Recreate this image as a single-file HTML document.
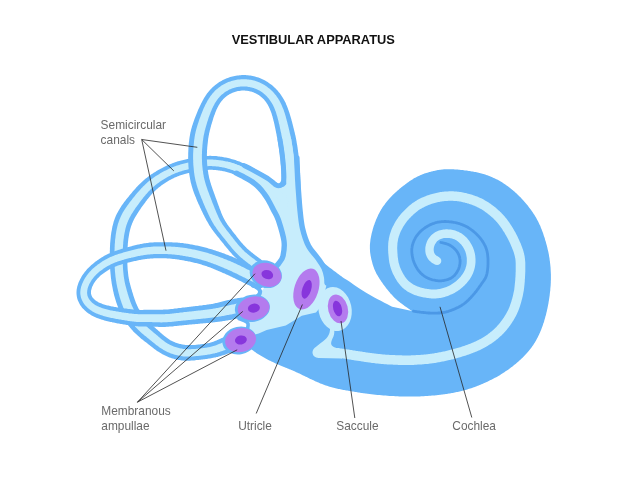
<!DOCTYPE html>
<html><head><meta charset="utf-8"><title>Vestibular apparatus</title>
<style>
html,body{margin:0;padding:0;background:#fff;}
svg{display:block}
.lb{font-family:"Liberation Sans",sans-serif;font-size:11.9px;fill:#6a6a6a;}
.tt{font-family:"Liberation Sans",sans-serif;font-size:12.85px;font-weight:bold;fill:#111;}
</style></head><body>
<svg width="626" height="479" viewBox="0 0 626 479">
<rect width="626" height="479" fill="#fff"/>
<path d="M412.0 311.0 L411.2 310.4 L410.3 309.9 L409.5 309.3 L408.7 308.8 L407.9 308.2 L407.0 307.6 L406.2 307.1 L405.4 306.5 L404.6 305.9 L403.8 305.3 L403.0 304.7 L402.2 304.1 L401.4 303.5 L400.6 302.9 L399.8 302.3 L399.0 301.7 L398.2 301.1 L397.5 300.4 L396.7 299.7 L396.0 299.1 L395.3 298.4 L394.5 297.7 L393.8 297.0 L393.1 296.3 L392.5 295.6 L391.8 294.8 L391.1 294.1 L390.4 293.4 L389.8 292.6 L389.1 291.8 L388.5 291.1 L387.9 290.3 L387.3 289.5 L386.6 288.7 L386.0 287.9 L385.4 287.1 L384.8 286.3 L384.2 285.5 L383.6 284.7 L383.0 283.9 L382.5 283.1 L381.9 282.3 L381.3 281.5 L380.7 280.6 L380.2 279.8 L379.6 279.0 L379.1 278.1 L378.6 277.3 L378.1 276.4 L377.6 275.6 L377.1 274.7 L376.6 273.9 L376.1 273.0 L375.7 272.1 L375.3 271.2 L374.9 270.3 L374.5 269.4 L374.1 268.4 L373.8 267.5 L373.4 266.6 L373.1 265.6 L372.8 264.7 L372.5 263.7 L372.3 262.8 L372.0 261.8 L371.8 260.8 L371.5 259.9 L371.3 258.9 L371.1 257.9 L370.9 257.0 L370.7 256.0 L370.5 255.0 L370.4 254.0 L370.2 253.0 L370.1 252.0 L370.0 251.1 L370.0 250.1 L369.9 249.1 L369.9 248.1 L369.9 247.1 L369.9 246.1 L369.9 245.1 L370.0 244.1 L370.1 243.1 L370.2 242.1 L370.3 241.2 L370.4 240.2 L370.5 239.2 L370.7 238.2 L370.9 237.2 L371.1 236.2 L371.3 235.3 L371.5 234.3 L371.7 233.3 L372.0 232.3 L372.2 231.4 L372.5 230.4 L372.7 229.5 L373.0 228.5 L373.3 227.5 L373.6 226.6 L373.9 225.6 L374.3 224.7 L374.6 223.8 L374.9 222.8 L375.3 221.9 L375.6 220.9 L376.0 220.0 L376.4 219.1 L376.8 218.2 L377.2 217.3 L377.6 216.4 L378.0 215.4 L378.4 214.6 L378.9 213.7 L379.4 212.8 L379.8 211.9 L380.3 211.0 L380.8 210.2 L381.3 209.3 L381.9 208.5 L382.4 207.6 L382.9 206.8 L383.5 206.0 L384.1 205.2 L384.7 204.4 L385.3 203.6 L385.9 202.8 L386.5 202.0 L387.1 201.2 L387.7 200.4 L388.4 199.7 L389.0 198.9 L389.7 198.2 L390.4 197.4 L391.1 196.7 L391.8 196.0 L392.5 195.3 L393.2 194.6 L393.9 193.9 L394.6 193.2 L395.4 192.5 L396.1 191.9 L396.8 191.2 L397.6 190.5 L398.4 189.9 L399.1 189.2 L399.9 188.6 L400.7 188.0 L401.4 187.3 L402.2 186.7 L403.0 186.1 L403.8 185.5 L404.6 184.9 L405.4 184.3 L406.2 183.7 L407.0 183.1 L407.8 182.5 L408.6 181.9 L409.4 181.3 L410.2 180.8 L411.1 180.2 L411.9 179.7 L412.8 179.2 L413.6 178.6 L414.5 178.1 L415.3 177.7 L416.2 177.2 L417.1 176.7 L418.0 176.3 L418.9 175.9 L419.8 175.4 L420.7 175.1 L421.6 174.7 L422.6 174.3 L423.5 174.0 L424.4 173.6 L425.4 173.3 L426.3 173.0 L427.3 172.7 L428.2 172.4 L429.2 172.1 L430.2 171.9 L431.1 171.6 L432.1 171.4 L433.1 171.1 L434.0 170.9 L435.0 170.7 L436.0 170.5 L437.0 170.3 L437.9 170.1 L438.9 169.9 L439.9 169.8 L440.9 169.7 L441.9 169.5 L442.9 169.4 L443.9 169.3 L444.9 169.3 L445.9 169.2 L446.8 169.2 L447.8 169.2 L448.8 169.2 L449.8 169.2 L450.8 169.2 L451.8 169.2 L452.8 169.3 L453.8 169.3 L454.8 169.4 L455.8 169.4 L456.8 169.5 L457.8 169.6 L458.8 169.7 L459.8 169.8 L460.8 169.9 L461.8 170.0 L462.8 170.1 L463.8 170.2 L464.8 170.4 L465.8 170.5 L466.8 170.6 L467.7 170.8 L468.7 170.9 L469.7 171.1 L470.7 171.2 L471.7 171.4 L472.7 171.6 L473.7 171.7 L474.6 171.9 L475.6 172.1 L476.6 172.3 L477.6 172.5 L478.6 172.8 L479.5 173.0 L480.5 173.2 L481.5 173.5 L482.4 173.8 L483.4 174.0 L484.3 174.3 L485.3 174.6 L486.2 174.9 L487.2 175.3 L488.1 175.6 L489.0 176.0 L490.0 176.3 L490.9 176.7 L491.8 177.1 L492.7 177.5 L493.6 177.9 L494.5 178.3 L495.4 178.7 L496.3 179.2 L497.2 179.6 L498.1 180.1 L499.0 180.6 L499.8 181.1 L500.7 181.6 L501.6 182.1 L502.4 182.6 L503.3 183.2 L504.1 183.7 L504.9 184.3 L505.7 184.8 L506.6 185.4 L507.4 186.0 L508.2 186.6 L509.0 187.2 L509.8 187.8 L510.6 188.4 L511.3 189.0 L512.1 189.7 L512.9 190.3 L513.6 191.0 L514.4 191.6 L515.1 192.3 L515.9 192.9 L516.6 193.6 L517.3 194.3 L518.0 195.0 L518.8 195.7 L519.5 196.4 L520.2 197.1 L520.9 197.8 L521.5 198.6 L522.2 199.3 L522.9 200.0 L523.6 200.8 L524.2 201.5 L524.9 202.3 L525.5 203.0 L526.2 203.8 L526.8 204.6 L527.5 205.3 L528.1 206.1 L528.7 206.9 L529.3 207.7 L529.9 208.5 L530.5 209.3 L531.1 210.1 L531.7 210.9 L532.3 211.7 L532.8 212.5 L533.4 213.4 L533.9 214.2 L534.5 215.1 L535.0 215.9 L535.5 216.8 L536.0 217.6 L536.5 218.5 L537.0 219.4 L537.4 220.2 L537.9 221.1 L538.4 222.0 L538.8 222.9 L539.2 223.8 L539.6 224.7 L540.1 225.6 L540.5 226.5 L540.8 227.5 L541.2 228.4 L541.6 229.3 L541.9 230.3 L542.3 231.2 L542.6 232.1 L543.0 233.1 L543.3 234.0 L543.6 235.0 L543.9 235.9 L544.3 236.9 L544.6 237.8 L544.9 238.8 L545.1 239.7 L545.4 240.7 L545.7 241.6 L546.0 242.6 L546.2 243.6 L546.5 244.5 L546.8 245.5 L547.0 246.5 L547.3 247.4 L547.5 248.4 L547.7 249.4 L548.0 250.4 L548.2 251.3 L548.4 252.3 L548.6 253.3 L548.8 254.3 L549.0 255.2 L549.1 256.2 L549.3 257.2 L549.5 258.2 L549.6 259.2 L549.7 260.2 L549.9 261.2 L550.0 262.2 L550.1 263.2 L550.2 264.1 L550.3 265.1 L550.4 266.1 L550.5 267.1 L550.6 268.1 L550.6 269.1 L550.7 270.1 L550.7 271.1 L550.8 272.1 L550.8 273.1 L550.9 274.1 L550.9 275.1 L550.9 276.1 L550.9 277.1 L550.9 278.1 L550.9 279.1 L550.9 280.1 L550.8 281.1 L550.8 282.1 L550.8 283.1 L550.7 284.1 L550.7 285.1 L550.6 286.1 L550.5 287.1 L550.4 288.1 L550.3 289.1 L550.3 290.1 L550.2 291.1 L550.0 292.1 L549.9 293.1 L549.8 294.1 L549.7 295.1 L549.6 296.1 L549.4 297.0 L549.3 298.0 L549.1 299.0 L549.0 300.0 L548.8 301.0 L548.6 302.0 L548.5 303.0 L548.3 304.0 L548.1 304.9 L547.9 305.9 L547.7 306.9 L547.5 307.9 L547.3 308.9 L547.1 309.8 L546.9 310.8 L546.7 311.8 L546.4 312.8 L546.2 313.7 L546.0 314.7 L545.7 315.7 L545.4 316.6 L545.2 317.6 L544.9 318.6 L544.6 319.5 L544.3 320.5 L544.1 321.4 L543.8 322.4 L543.4 323.3 L543.1 324.3 L542.8 325.2 L542.5 326.2 L542.1 327.1 L541.8 328.0 L541.4 329.0 L541.1 329.9 L540.7 330.8 L540.3 331.8 L539.9 332.7 L539.5 333.6 L539.1 334.5 L538.6 335.4 L538.2 336.3 L537.8 337.2 L537.3 338.1 L536.8 339.0 L536.4 339.8 L535.9 340.7 L535.4 341.6 L534.9 342.4 L534.3 343.3 L533.8 344.1 L533.3 344.9 L532.7 345.8 L532.1 346.6 L531.5 347.4 L530.9 348.2 L530.3 349.0 L529.7 349.8 L529.1 350.5 L528.5 351.3 L527.8 352.1 L527.2 352.8 L526.5 353.6 L525.8 354.3 L525.1 355.0 L524.4 355.7 L523.7 356.5 L523.0 357.2 L522.3 357.9 L521.6 358.6 L520.9 359.2 L520.1 359.9 L519.4 360.6 L518.7 361.3 L517.9 361.9 L517.1 362.6 L516.4 363.2 L515.6 363.9 L514.8 364.5 L514.1 365.1 L513.3 365.8 L512.5 366.4 L511.7 367.0 L510.9 367.6 L510.1 368.2 L509.3 368.8 L508.5 369.4 L507.7 369.9 L506.9 370.5 L506.0 371.1 L505.2 371.6 L504.4 372.2 L503.5 372.7 L502.7 373.3 L501.9 373.8 L501.0 374.3 L500.2 374.9 L499.3 375.4 L498.4 375.9 L497.6 376.4 L496.7 376.9 L495.8 377.4 L494.9 377.8 L494.1 378.3 L493.2 378.8 L492.3 379.2 L491.4 379.7 L490.5 380.1 L489.6 380.6 L488.7 381.0 L487.8 381.5 L486.9 381.9 L486.0 382.3 L485.1 382.7 L484.2 383.1 L483.3 383.5 L482.3 383.9 L481.4 384.3 L480.5 384.7 L479.6 385.1 L478.7 385.5 L477.7 385.8 L476.8 386.2 L475.9 386.5 L474.9 386.9 L474.0 387.2 L473.0 387.6 L472.1 387.9 L471.1 388.2 L470.2 388.5 L469.2 388.8 L468.3 389.1 L467.3 389.4 L466.4 389.7 L465.4 390.0 L464.4 390.2 L463.5 390.5 L462.5 390.7 L461.5 391.0 L460.6 391.2 L459.6 391.4 L458.6 391.7 L457.7 391.9 L456.7 392.1 L455.7 392.3 L454.7 392.5 L453.7 392.7 L452.8 392.9 L451.8 393.1 L450.8 393.2 L449.8 393.4 L448.8 393.6 L447.8 393.7 L446.8 393.9 L445.8 394.1 L444.9 394.2 L443.9 394.3 L442.9 394.5 L441.9 394.6 L440.9 394.7 L439.9 394.8 L438.9 395.0 L437.9 395.1 L436.9 395.2 L435.9 395.3 L434.9 395.4 L433.9 395.4 L432.9 395.5 L431.9 395.6 L430.9 395.7 L429.9 395.8 L428.9 395.8 L427.9 395.9 L426.9 396.0 L425.9 396.0 L425.0 396.1 L424.0 396.2 L423.0 396.2 L422.0 396.3 L421.0 396.3 L420.0 396.4 L419.0 396.4 L418.0 396.5 L417.0 396.5 L416.0 396.5 L415.0 396.6 L414.0 396.6 L413.0 396.6 L412.0 396.6 L411.0 396.6 L410.0 396.6 L409.0 396.6 L408.0 396.6 L407.0 396.6 L406.0 396.6 L405.0 396.6 L404.0 396.6 L403.0 396.5 L402.0 396.5 L401.0 396.5 L400.0 396.4 L399.0 396.4 L398.0 396.3 L397.0 396.3 L396.0 396.3 L395.0 396.2 L394.0 396.1 L393.0 396.1 L392.0 396.0 L391.0 396.0 L390.0 395.9 L389.0 395.9 L388.0 395.8 L387.0 395.7 L386.0 395.6 L385.0 395.6 L384.0 395.5 L383.0 395.4 L382.0 395.3 L381.0 395.2 L380.0 395.1 L379.0 395.1 L378.0 395.0 L377.0 394.9 L376.0 394.8 L375.0 394.7 L374.0 394.5 L373.0 394.4 L372.0 394.3 L371.0 394.2 L370.0 394.1 L369.0 394.0 L368.1 393.8 L367.1 393.7 L366.1 393.6 L365.1 393.5 L364.1 393.3 L363.1 393.2 L362.1 393.0 L361.1 392.9 L360.1 392.7 L359.1 392.6 L358.1 392.4 L357.2 392.3 L356.2 392.1 L355.2 392.0 L354.2 391.8 L353.2 391.6 L352.2 391.5 L351.2 391.3 L350.3 391.1 L349.3 391.0 L348.3 390.8 L347.3 390.6 L346.3 390.4 L345.3 390.3 L344.3 390.1 L343.4 389.9 L342.4 389.7 L341.4 389.5 L340.4 389.3 L339.4 389.1 L338.5 388.9 L337.5 388.7 L336.5 388.5 L335.5 388.2 L334.6 388.0 L333.6 387.8 L332.6 387.5 L331.7 387.2 L330.7 387.0 L329.7 386.7 L328.8 386.4 L327.8 386.1 L326.9 385.8 L325.9 385.5 L325.0 385.2 L324.0 384.8 L323.1 384.5 L322.2 384.1 L321.2 383.8 L320.3 383.4 L319.4 383.0 L318.5 382.6 L317.6 382.2 L316.6 381.8 L315.7 381.4 L314.8 381.0 L313.9 380.6 L313.0 380.1 L312.1 379.7 L311.2 379.3 L310.3 378.9 L309.4 378.4 L308.5 378.0 L307.6 377.6 L306.7 377.1 L305.8 376.7 L304.9 376.2 L304.0 375.8 L303.1 375.4 L302.2 374.9 L301.3 374.5 L300.4 374.1 L299.5 373.6 L298.6 373.2 L297.7 372.8 L296.8 372.4 L295.9 372.0 L294.9 371.6 L294.0 371.1 L293.1 370.7 L292.2 370.3 L291.3 370.0 L290.4 369.6 L289.4 369.2 L288.5 368.8 L287.6 368.4 L286.7 368.1 L285.7 367.7 L284.8 367.3 L283.9 366.9 L282.9 366.6 L282.0 366.2 L281.1 365.8 L280.2 365.4 L279.3 365.0 L278.3 364.6 L277.4 364.2 L276.5 363.8 L275.6 363.4 L274.7 363.0 L273.8 362.6 L272.9 362.1 L272.0 361.7 L271.1 361.3 L270.2 360.8 L269.3 360.4 L268.4 359.9 L267.5 359.5 L266.6 359.0 L265.7 358.6 L264.8 358.1 L264.0 357.6 L263.1 357.1 L262.2 356.6 L261.4 356.1 L260.5 355.6 L259.7 355.1 L258.8 354.5 L258.0 354.0 L257.1 353.5 L256.3 352.9 L255.5 352.3 L254.7 351.8 L253.9 351.2 L253.1 350.6 L252.3 350.0 L251.5 349.4 L250.7 348.8 L249.9 348.1 L249.1 347.5 L248.3 346.9 L247.5 346.3 L246.8 345.6 L246.0 345.0 L258 320 L280 290 L296 250 L302.0 224.0 C302.4 225.0 303.2 226.3 304.6 230.0 C306.0 233.7 307.4 240.9 310.2 246.0 C313.0 251.1 316.8 255.9 321.4 260.5 C325.9 265.1 333.2 270.1 337.5 273.4 C341.8 276.6 342.1 276.7 347.0 280.0 C351.9 283.3 359.5 288.8 367.0 293.3 C374.5 297.8 388.0 304.6 392.2 306.8 L412 311Z" fill="#68b5f8"/>
<path d="M439.1 257.2 L438.3 256.8 L437.6 256.3 L436.9 255.9 L436.3 255.5 L435.8 255.1 L435.4 254.7 L435.0 254.2 L434.7 253.8 L434.5 253.3 L434.2 252.8 L434.0 252.2 L433.9 251.6 L433.8 250.9 L433.7 250.3 L433.7 249.6 L433.7 248.9 L433.8 248.2 L433.9 247.4 L434.1 246.7 L434.3 246.0 L434.6 245.3 L434.9 244.6 L435.2 244.0 L435.6 243.4 L436.0 242.7 L436.4 242.2 L436.9 241.6 L437.3 241.1 L437.9 240.7 L438.4 240.3 L439.0 239.9 L439.6 239.5 L440.2 239.2 L440.9 238.9 L441.6 238.7 L442.3 238.5 L443.1 238.3 L443.9 238.1 L444.7 238.0 L445.5 237.9 L446.3 237.9 L447.1 237.9 L447.9 237.9 L448.7 238.0 L449.5 238.1 L450.3 238.2 L451.1 238.3 L451.9 238.5 L452.7 238.8 L453.4 239.0 L454.2 239.3 L454.9 239.6 L455.6 240.0 L456.3 240.3 L456.9 240.8 L457.6 241.2 L458.2 241.7 L458.8 242.2 L459.4 242.8 L460.0 243.4 L460.6 244.0 L461.2 244.6 L461.7 245.3 L462.2 245.9 L462.7 246.6 L463.1 247.3 L463.6 248.0 L464.0 248.8 L464.4 249.5 L464.7 250.3 L465.1 251.0 L465.4 251.8 L465.6 252.6 L465.9 253.4 L466.1 254.2 L466.3 255.1 L466.4 255.9 L466.6 256.8 L466.7 257.6 L466.8 258.5 L466.8 259.3 L466.8 260.2 L466.8 261.0 L466.8 261.9 L466.7 262.7 L466.7 263.5 L466.5 264.4 L466.4 265.2 L466.2 266.0 L466.0 266.8 L465.7 267.6 L465.5 268.4 L465.2 269.2 L464.9 270.0 L464.5 270.7 L464.1 271.5 L463.7 272.2 L463.3 273.0 L462.8 273.7 L462.3 274.4 L461.8 275.1 L461.3 275.8 L460.8 276.5 L460.2 277.2 L459.6 277.8 L459.0 278.5 L458.4 279.1 L457.7 279.7 L457.0 280.3 L456.4 280.9 L455.7 281.5 L455.0 282.0 L454.3 282.6 L453.6 283.1 L452.8 283.6 L452.1 284.1 L451.3 284.5 L450.6 285.0 L449.8 285.4 L449.0 285.8 L448.2 286.2 L447.4 286.5 L446.5 286.9 L445.7 287.2 L444.9 287.5 L444.0 287.8 L443.2 288.1 L442.3 288.3 L441.4 288.6 L440.6 288.8 L439.7 289.0 L438.9 289.1 L438.0 289.2 L437.2 289.3 L436.3 289.4 L435.4 289.5 L434.6 289.5 L433.7 289.5 L432.8 289.5 L431.9 289.5 L431.0 289.4 L430.1 289.3 L429.2 289.2 L428.3 289.1 L427.4 289.0 L426.5 288.8 L425.6 288.7 L424.6 288.5 L423.7 288.3 L422.9 288.1 L422.0 287.9 L421.1 287.6 L420.2 287.4 L419.4 287.1 L418.5 286.8 L417.7 286.5 L416.9 286.2 L416.1 285.8 L415.3 285.5 L414.5 285.1 L413.7 284.7 L413.0 284.2 L412.3 283.8 L411.6 283.3 L410.9 282.8 L410.2 282.3 L409.5 281.8 L408.9 281.2 L408.3 280.7 L407.7 280.1 L407.1 279.5 L406.6 278.8 L406.1 278.2 L405.6 277.5 L405.0 276.8 L404.6 276.1 L404.1 275.3 L403.6 274.5 L403.2 273.7 L402.7 272.9 L402.3 272.1 L401.9 271.3 L401.5 270.5 L401.1 269.7 L400.7 268.8 L400.4 268.0 L400.0 267.2 L399.7 266.3 L399.5 265.5 L399.2 264.6 L399.0 263.8 L398.7 262.9 L398.5 262.1 L398.4 261.2 L398.2 260.3 L398.1 259.4 L398.0 258.5 L397.8 257.6 L397.7 256.6 L397.6 255.7 L397.6 254.7 L397.5 253.8 L397.4 252.8 L397.4 251.9 L397.3 250.9 L397.3 250.0 L397.2 249.0 L397.2 248.1 L397.2 247.2 L397.3 246.3 L397.3 245.4 L397.4 244.5 L397.4 243.6 L397.5 242.7 L397.7 241.8 L397.8 240.9 L398.0 240.1 L398.1 239.2 L398.3 238.3 L398.6 237.5 L398.8 236.6 L399.1 235.8 L399.4 234.9 L399.7 234.1 L400.0 233.3 L400.3 232.4 L400.7 231.6 L401.1 230.8 L401.5 230.0 L401.9 229.2 L402.3 228.4 L402.8 227.6 L403.2 226.8 L403.7 226.0 L404.2 225.2 L404.7 224.5 L405.2 223.7 L405.7 223.0 L406.3 222.2 L406.8 221.5 L407.4 220.8 L408.0 220.1 L408.6 219.4 L409.2 218.7 L409.8 218.1 L410.5 217.4 L411.1 216.7 L411.8 216.1 L412.5 215.4 L413.2 214.8 L413.9 214.1 L414.6 213.5 L415.3 212.9 L416.0 212.3 L416.7 211.8 L417.4 211.2 L418.1 210.6 L418.9 210.1 L419.6 209.6 L420.4 209.1 L421.1 208.7 L421.9 208.2 L422.7 207.8 L423.5 207.4 L424.3 206.9 L425.1 206.6 L425.9 206.2 L426.8 205.8 L427.6 205.5 L428.5 205.1 L429.3 204.8 L430.2 204.5 L431.1 204.1 L432.0 203.8 L432.9 203.6 L433.8 203.3 L434.7 203.0 L435.6 202.8 L436.5 202.5 L437.4 202.3 L438.3 202.1 L439.2 201.9 L440.1 201.8 L441.0 201.6 L441.9 201.5 L442.8 201.3 L443.7 201.2 L444.7 201.1 L445.6 201.0 L446.5 200.9 L447.4 200.9 L448.4 200.8 L449.3 200.8 L450.2 200.8 L451.1 200.8 L452.0 200.8 L452.9 200.8 L453.9 200.9 L454.8 200.9 L455.7 201.0 L456.6 201.1 L457.5 201.2 L458.4 201.3 L459.3 201.5 L460.2 201.6 L461.1 201.8 L462.1 202.0 L463.0 202.2 L463.9 202.4 L464.8 202.6 L465.7 202.9 L466.6 203.1 L467.5 203.4 L468.4 203.6 L469.3 203.9 L470.2 204.2 L471.1 204.5 L472.0 204.8 L472.8 205.2 L473.7 205.5 L474.5 205.8 L475.4 206.2 L476.2 206.6 L477.0 207.0 L477.9 207.4 L478.7 207.8 L479.5 208.2 L480.3 208.7 L481.1 209.1 L481.9 209.6 L482.6 210.1 L483.4 210.6 L484.2 211.1 L485.0 211.7 L485.7 212.2 L486.5 212.8 L487.2 213.3 L488.0 213.9 L488.7 214.5 L489.4 215.1 L490.2 215.7 L490.9 216.3 L491.6 216.9 L492.3 217.5 L493.0 218.1 L493.6 218.8 L494.3 219.4 L494.9 220.1 L495.6 220.8 L496.2 221.4 L496.8 222.1 L497.4 222.8 L498.0 223.5 L498.6 224.2 L499.2 225.0 L499.7 225.7 L500.3 226.4 L500.8 227.2 L501.4 228.0 L501.9 228.8 L502.4 229.6 L502.9 230.4 L503.4 231.2 L504.0 232.0 L504.5 232.8 L504.9 233.6 L505.4 234.4 L505.9 235.3 L506.4 236.1 L506.8 236.9 L507.3 237.8 L507.7 238.6 L508.2 239.5 L508.6 240.3 L509.0 241.2 L509.5 242.0 L509.9 242.9 L510.3 243.8 L510.6 244.6 L511.0 245.5 L511.4 246.4 L511.8 247.3 L512.1 248.2 L512.5 249.1 L512.8 249.9 L513.2 250.8 L513.5 251.7 L513.8 252.6 L514.0 253.4 L514.3 254.3 L514.5 255.2 L514.8 256.0 L514.9 256.9 L515.1 257.7 L515.3 258.6 L515.4 259.4 L515.5 260.3 L515.6 261.2 L515.6 262.1 L515.7 263.0 L515.7 263.9 L515.7 264.9 L515.7 265.8 L515.7 266.8 L515.7 267.7 L515.7 268.7 L515.7 269.7 L515.7 270.7 L515.7 271.7 L515.6 272.6 L515.6 273.6 L515.6 274.6 L515.5 275.5 L515.5 276.5 L515.4 277.5 L515.3 278.4 L515.3 279.4 L515.2 280.4 L515.1 281.4 L515.0 282.3 L514.9 283.3 L514.8 284.3 L514.7 285.3 L514.6 286.2 L514.5 287.2 L514.4 288.1 L514.3 289.0 L514.2 289.9 L514.0 290.8 L513.8 291.7 L513.6 292.6 L513.4 293.6 L513.2 294.5 L513.0 295.4 L512.8 296.3 L512.5 297.3 L512.3 298.2 L512.0 299.2 L511.7 300.1 L511.5 301.0 L511.2 301.9 L510.9 302.8 L510.6 303.7 L510.3 304.6 L510.0 305.5 L509.7 306.3 L509.4 307.2 L509.0 308.0 L508.7 308.8 L508.3 309.7 L507.9 310.5 L507.5 311.3 L507.0 312.1 L506.6 312.9 L506.1 313.7 L505.7 314.5 L505.2 315.3 L504.7 316.1 L504.2 316.9 L503.7 317.7 L503.1 318.5 L502.6 319.3 L502.1 320.0 L501.5 320.8 L500.9 321.5 L500.4 322.3 L499.8 323.0 L499.2 323.7 L498.6 324.4 L498.0 325.1 L497.4 325.8 L496.8 326.5 L496.1 327.2 L495.5 327.8 L494.8 328.5 L494.2 329.1 L493.5 329.7 L492.8 330.3 L492.1 330.9 L491.4 331.5 L490.6 332.1 L489.9 332.7 L489.2 333.3 L488.4 333.8 L487.7 334.4 L486.9 334.9 L486.1 335.4 L485.4 336.0 L484.6 336.5 L483.8 337.0 L483.0 337.5 L482.2 338.0 L481.3 338.4 L480.5 338.9 L479.7 339.3 L478.9 339.8 L478.0 340.2 L477.2 340.6 L476.4 341.0 L475.5 341.4 L474.6 341.8 L473.8 342.2 L472.9 342.6 L472.0 343.0 L471.1 343.3 L470.3 343.7 L469.4 344.0 L468.5 344.3 L467.5 344.7 L466.6 345.0 L465.7 345.3 L464.8 345.7 L463.9 346.0 L463.0 346.3 L462.0 346.6 L461.1 346.9 L460.2 347.2 L459.2 347.5 L458.3 347.8 L457.4 348.0 L456.4 348.3 L455.5 348.6 L454.6 348.8 L453.6 349.1 L452.7 349.4 L451.8 349.6 L450.8 349.8 L449.9 350.1 L448.9 350.3 L448.0 350.5 L447.0 350.7 L446.1 351.0 L445.1 351.2 L444.2 351.4 L443.2 351.6 L442.3 351.8 L441.3 352.0 L440.3 352.2 L439.4 352.3 L438.4 352.5 L437.4 352.7 L436.5 352.9 L435.5 353.1 L434.5 353.2 L433.6 353.4 L432.6 353.6 L431.7 353.7 L430.7 353.8 L429.8 354.0 L428.8 354.1 L427.9 354.2 L426.9 354.3 L426.0 354.4 L425.0 354.5 L424.1 354.6 L423.1 354.7 L422.1 354.7 L421.1 354.8 L420.1 354.9 L419.2 354.9 L418.2 355.0 L417.2 355.1 L416.2 355.1 L415.2 355.2 L414.3 355.2 L413.3 355.3 L412.3 355.3 L411.3 355.3 L410.4 355.4 L409.4 355.4 L408.4 355.4 L407.4 355.4 L406.5 355.4 L405.5 355.4 L404.5 355.4 L403.5 355.4 L402.6 355.4 L401.6 355.3 L400.6 355.3 L399.6 355.3 L398.6 355.3 L397.6 355.2 L396.7 355.2 L395.7 355.2 L394.7 355.1 L393.7 355.1 L392.7 355.1 L391.7 355.0 L390.7 355.0 L389.8 354.9 L388.8 354.8 L387.8 354.8 L386.8 354.7 L385.8 354.7 L384.9 354.6 L383.9 354.5 L382.9 354.4 L381.9 354.3 L381.0 354.2 L380.0 354.1 L379.0 354.0 L378.1 353.9 L377.1 353.8 L376.1 353.7 L375.2 353.6 L374.2 353.5 L373.2 353.3 L372.2 353.2 L371.3 353.1 L370.3 352.9 L369.3 352.8 L368.3 352.7 L367.3 352.5 L366.4 352.4 L365.4 352.2 L364.4 352.1 L363.4 351.9 L362.4 351.8 L361.4 351.6 L360.4 351.5 L359.4 351.3 L358.4 351.2 L357.5 351.0 L356.5 350.9 L355.5 350.7 L354.5 350.6 L353.5 350.4 L352.5 350.3 L351.6 350.1 L350.6 350.0 L349.6 349.8 L348.6 349.6 L347.6 349.5 L346.6 349.3 L345.6 349.2 L344.6 349.0 L343.6 348.8 L342.6 348.7 L341.6 348.5 L340.6 348.4 L339.6 348.2 L338.6 348.1 L337.5 348.0 L336.5 347.9 L335.4 347.8 L334.4 347.7 L333.3 347.6 L332.3 347.5 L331.3 347.5 L330.2 347.4 L329.2 347.4 L328.1 347.3 L327.1 347.3 L326.1 347.3 L325.1 347.3 L324.1 347.3 L323.1 347.2 L322.1 347.2 L321.0 347.2 L320.0 347.2 L319.0 347.2 L319.0 356.8 L320.0 356.8 L321.0 356.8 L321.9 356.8 L322.9 356.8 L323.9 356.9 L324.9 356.9 L325.9 356.9 L326.9 356.9 L327.9 356.9 L328.8 357.0 L329.8 357.0 L330.7 357.1 L331.7 357.1 L332.6 357.2 L333.6 357.2 L334.5 357.3 L335.5 357.4 L336.4 357.5 L337.4 357.6 L338.3 357.8 L339.3 357.9 L340.2 358.0 L341.2 358.2 L342.2 358.3 L343.2 358.5 L344.1 358.6 L345.1 358.8 L346.1 359.0 L347.1 359.1 L348.1 359.3 L349.1 359.4 L350.1 359.6 L351.1 359.7 L352.1 359.9 L353.0 360.1 L354.0 360.2 L355.0 360.4 L356.0 360.5 L357.0 360.7 L358.0 360.8 L359.0 361.0 L360.0 361.1 L361.0 361.3 L362.0 361.4 L362.9 361.6 L363.9 361.7 L364.9 361.9 L365.9 362.0 L366.9 362.2 L367.9 362.3 L368.9 362.4 L369.9 362.6 L370.9 362.7 L371.9 362.9 L372.9 363.0 L374.0 363.1 L375.0 363.2 L376.0 363.4 L377.0 363.5 L378.0 363.6 L379.0 363.7 L380.1 363.8 L381.1 363.9 L382.1 364.0 L383.1 364.1 L384.1 364.2 L385.2 364.2 L386.2 364.3 L387.2 364.4 L388.2 364.4 L389.2 364.5 L390.2 364.5 L391.2 364.6 L392.3 364.6 L393.3 364.7 L394.3 364.7 L395.3 364.8 L396.3 364.8 L397.3 364.8 L398.3 364.9 L399.4 364.9 L400.4 364.9 L401.4 364.9 L402.4 365.0 L403.4 365.0 L404.4 365.0 L405.5 365.0 L406.5 365.0 L407.5 365.0 L408.5 365.0 L409.6 365.0 L410.6 365.0 L411.6 364.9 L412.7 364.9 L413.7 364.9 L414.7 364.8 L415.7 364.8 L416.7 364.7 L417.8 364.6 L418.8 364.6 L419.8 364.5 L420.8 364.4 L421.8 364.4 L422.8 364.3 L423.8 364.2 L424.9 364.1 L425.9 364.1 L426.9 364.0 L427.9 363.9 L429.0 363.7 L430.0 363.6 L431.1 363.5 L432.1 363.3 L433.1 363.2 L434.1 363.0 L435.2 362.9 L436.2 362.7 L437.2 362.5 L438.2 362.3 L439.2 362.2 L440.2 362.0 L441.2 361.8 L442.2 361.6 L443.2 361.4 L444.2 361.2 L445.2 361.0 L446.2 360.8 L447.2 360.5 L448.2 360.3 L449.2 360.1 L450.2 359.9 L451.2 359.6 L452.2 359.4 L453.2 359.2 L454.2 358.9 L455.2 358.6 L456.2 358.4 L457.2 358.1 L458.1 357.8 L459.1 357.5 L460.1 357.2 L461.1 356.9 L462.1 356.6 L463.1 356.3 L464.0 356.0 L465.0 355.7 L466.0 355.4 L466.9 355.1 L467.9 354.7 L468.9 354.4 L469.9 354.1 L470.8 353.7 L471.8 353.3 L472.8 353.0 L473.7 352.6 L474.7 352.2 L475.7 351.8 L476.6 351.4 L477.6 351.0 L478.6 350.6 L479.5 350.2 L480.5 349.7 L481.4 349.2 L482.4 348.8 L483.3 348.3 L484.3 347.8 L485.2 347.3 L486.1 346.8 L487.0 346.2 L487.9 345.7 L488.8 345.1 L489.7 344.6 L490.6 344.0 L491.5 343.4 L492.4 342.8 L493.3 342.2 L494.1 341.6 L495.0 340.9 L495.8 340.3 L496.7 339.6 L497.5 338.9 L498.3 338.3 L499.1 337.6 L499.9 336.8 L500.7 336.1 L501.5 335.4 L502.3 334.6 L503.0 333.9 L503.8 333.1 L504.5 332.3 L505.2 331.5 L505.9 330.7 L506.6 329.9 L507.3 329.0 L507.9 328.2 L508.6 327.4 L509.2 326.5 L509.9 325.7 L510.5 324.8 L511.1 323.9 L511.7 323.0 L512.2 322.2 L512.8 321.3 L513.4 320.4 L513.9 319.5 L514.5 318.5 L515.0 317.6 L515.5 316.7 L516.0 315.7 L516.5 314.7 L517.0 313.8 L517.4 312.8 L517.9 311.8 L518.3 310.8 L518.7 309.8 L519.1 308.8 L519.4 307.7 L519.8 306.7 L520.1 305.7 L520.4 304.7 L520.7 303.7 L521.0 302.7 L521.3 301.7 L521.5 300.7 L521.8 299.7 L522.1 298.7 L522.3 297.7 L522.6 296.7 L522.8 295.7 L523.0 294.7 L523.2 293.6 L523.4 292.5 L523.6 291.5 L523.8 290.4 L523.9 289.4 L524.1 288.3 L524.2 287.3 L524.3 286.2 L524.4 285.2 L524.5 284.2 L524.6 283.2 L524.7 282.2 L524.8 281.2 L524.8 280.1 L524.9 279.1 L525.0 278.1 L525.0 277.1 L525.1 276.0 L525.1 275.0 L525.2 274.0 L525.2 272.9 L525.3 271.9 L525.3 270.9 L525.3 269.9 L525.3 268.9 L525.3 267.8 L525.3 266.8 L525.3 265.8 L525.3 264.7 L525.3 263.7 L525.3 262.6 L525.2 261.5 L525.1 260.4 L525.0 259.3 L524.9 258.2 L524.7 257.1 L524.6 256.0 L524.3 254.9 L524.1 253.8 L523.8 252.7 L523.5 251.6 L523.2 250.6 L522.9 249.6 L522.5 248.5 L522.2 247.5 L521.8 246.5 L521.4 245.6 L521.0 244.6 L520.7 243.6 L520.3 242.7 L519.8 241.7 L519.4 240.8 L519.0 239.8 L518.6 238.9 L518.1 237.9 L517.7 237.0 L517.2 236.0 L516.7 235.1 L516.3 234.2 L515.8 233.2 L515.3 232.3 L514.8 231.4 L514.2 230.5 L513.7 229.6 L513.2 228.7 L512.7 227.8 L512.1 226.9 L511.6 226.0 L511.0 225.2 L510.4 224.3 L509.9 223.4 L509.3 222.5 L508.7 221.7 L508.0 220.8 L507.4 219.9 L506.8 219.1 L506.1 218.3 L505.4 217.4 L504.7 216.6 L504.0 215.8 L503.3 215.0 L502.6 214.2 L501.8 213.4 L501.1 212.6 L500.3 211.9 L499.5 211.1 L498.7 210.4 L497.9 209.7 L497.1 209.0 L496.3 208.3 L495.5 207.6 L494.7 207.0 L493.9 206.3 L493.0 205.7 L492.2 205.0 L491.3 204.4 L490.5 203.8 L489.6 203.2 L488.7 202.6 L487.8 202.0 L486.9 201.4 L486.0 200.9 L485.0 200.4 L484.1 199.8 L483.1 199.3 L482.2 198.8 L481.2 198.3 L480.2 197.9 L479.2 197.4 L478.2 197.0 L477.2 196.6 L476.2 196.2 L475.2 195.9 L474.2 195.5 L473.2 195.2 L472.2 194.8 L471.2 194.5 L470.2 194.2 L469.2 193.9 L468.1 193.7 L467.1 193.4 L466.1 193.1 L465.0 192.9 L464.0 192.7 L463.0 192.5 L461.9 192.3 L460.8 192.1 L459.8 191.9 L458.7 191.8 L457.6 191.7 L456.6 191.6 L455.5 191.5 L454.4 191.4 L453.3 191.3 L452.2 191.3 L451.2 191.3 L450.1 191.3 L449.0 191.3 L447.9 191.4 L446.9 191.4 L445.8 191.5 L444.7 191.6 L443.7 191.7 L442.6 191.8 L441.5 192.0 L440.5 192.1 L439.4 192.3 L438.4 192.5 L437.3 192.7 L436.2 192.9 L435.2 193.2 L434.2 193.4 L433.1 193.7 L432.1 194.0 L431.1 194.3 L430.1 194.6 L429.0 194.9 L428.0 195.3 L427.0 195.6 L426.0 196.0 L425.0 196.4 L424.1 196.8 L423.1 197.2 L422.1 197.6 L421.1 198.1 L420.1 198.6 L419.1 199.0 L418.2 199.6 L417.2 200.1 L416.3 200.7 L415.3 201.3 L414.4 201.9 L413.5 202.5 L412.6 203.1 L411.7 203.8 L410.9 204.4 L410.1 205.1 L409.2 205.8 L408.4 206.5 L407.6 207.2 L406.8 207.9 L406.1 208.7 L405.3 209.4 L404.6 210.2 L403.8 210.9 L403.1 211.7 L402.3 212.5 L401.6 213.3 L400.9 214.1 L400.2 214.9 L399.6 215.8 L398.9 216.6 L398.2 217.5 L397.6 218.4 L397.0 219.3 L396.4 220.2 L395.8 221.1 L395.3 222.1 L394.7 223.0 L394.2 223.9 L393.7 224.9 L393.2 225.9 L392.7 226.8 L392.3 227.8 L391.8 228.8 L391.4 229.8 L391.0 230.9 L390.7 231.9 L390.3 233.0 L390.0 234.0 L389.7 235.1 L389.4 236.2 L389.2 237.3 L388.9 238.3 L388.8 239.4 L388.6 240.5 L388.4 241.6 L388.3 242.7 L388.2 243.8 L388.2 244.9 L388.1 246.0 L388.1 247.1 L388.1 248.2 L388.1 249.2 L388.1 250.3 L388.2 251.4 L388.2 252.4 L388.3 253.4 L388.4 254.5 L388.5 255.5 L388.6 256.5 L388.7 257.6 L388.8 258.6 L388.9 259.7 L389.1 260.8 L389.2 261.8 L389.4 262.9 L389.7 264.0 L389.9 265.1 L390.2 266.2 L390.5 267.2 L390.8 268.3 L391.2 269.3 L391.6 270.4 L392.0 271.4 L392.4 272.4 L392.8 273.4 L393.3 274.4 L393.8 275.3 L394.3 276.3 L394.8 277.3 L395.3 278.2 L395.8 279.1 L396.4 280.1 L397.0 281.0 L397.6 281.9 L398.3 282.8 L399.0 283.7 L399.7 284.6 L400.4 285.5 L401.2 286.3 L402.0 287.2 L402.9 287.9 L403.8 288.7 L404.6 289.4 L405.6 290.1 L406.5 290.8 L407.4 291.4 L408.4 292.0 L409.4 292.5 L410.4 293.1 L411.4 293.6 L412.4 294.0 L413.5 294.5 L414.5 294.9 L415.5 295.3 L416.6 295.6 L417.6 296.0 L418.7 296.3 L419.7 296.5 L420.8 296.8 L421.8 297.0 L422.9 297.3 L423.9 297.5 L425.0 297.6 L426.1 297.8 L427.1 298.0 L428.2 298.1 L429.3 298.2 L430.3 298.3 L431.4 298.4 L432.5 298.4 L433.7 298.4 L434.8 298.4 L435.9 298.4 L437.0 298.3 L438.1 298.2 L439.3 298.0 L440.4 297.9 L441.5 297.7 L442.6 297.4 L443.6 297.2 L444.7 296.9 L445.8 296.6 L446.8 296.2 L447.9 295.9 L448.9 295.5 L449.9 295.1 L450.9 294.6 L451.9 294.2 L452.9 293.7 L453.9 293.2 L454.9 292.7 L455.8 292.1 L456.8 291.5 L457.7 290.9 L458.6 290.3 L459.5 289.7 L460.4 289.0 L461.3 288.3 L462.1 287.6 L462.9 286.9 L463.7 286.1 L464.5 285.4 L465.3 284.6 L466.1 283.8 L466.8 282.9 L467.5 282.1 L468.2 281.2 L468.9 280.3 L469.6 279.4 L470.2 278.5 L470.8 277.5 L471.4 276.5 L471.9 275.5 L472.4 274.5 L472.9 273.5 L473.3 272.4 L473.7 271.3 L474.1 270.2 L474.4 269.1 L474.7 268.0 L474.9 266.9 L475.1 265.8 L475.3 264.6 L475.4 263.5 L475.5 262.3 L475.5 261.2 L475.5 260.0 L475.5 258.9 L475.4 257.8 L475.3 256.6 L475.2 255.5 L475.0 254.4 L474.8 253.3 L474.5 252.2 L474.2 251.1 L473.9 250.0 L473.5 248.9 L473.1 247.8 L472.6 246.7 L472.1 245.7 L471.6 244.7 L471.0 243.7 L470.4 242.7 L469.8 241.7 L469.2 240.8 L468.5 239.9 L467.7 239.0 L467.0 238.1 L466.2 237.3 L465.3 236.5 L464.5 235.7 L463.6 235.0 L462.6 234.3 L461.7 233.6 L460.6 233.0 L459.6 232.4 L458.5 231.8 L457.4 231.4 L456.3 230.9 L455.2 230.6 L454.1 230.2 L452.9 230.0 L451.8 229.7 L450.6 229.6 L449.5 229.4 L448.3 229.4 L447.1 229.3 L446.0 229.3 L444.8 229.4 L443.6 229.5 L442.4 229.7 L441.3 229.9 L440.1 230.2 L438.9 230.6 L437.8 231.0 L436.7 231.5 L435.5 232.0 L434.4 232.7 L433.4 233.4 L432.4 234.2 L431.5 235.0 L430.6 235.9 L429.8 236.9 L429.0 237.9 L428.3 238.9 L427.7 240.0 L427.2 241.1 L426.7 242.2 L426.3 243.4 L425.9 244.6 L425.7 245.8 L425.4 247.0 L425.3 248.2 L425.3 249.5 L425.3 250.7 L425.4 252.0 L425.6 253.3 L425.9 254.6 L426.4 255.8 L426.9 257.1 L427.6 258.2 L428.4 259.4 L429.2 260.4 L430.2 261.3 L431.2 262.2 L432.2 262.9 L433.2 263.5 L434.2 264.1 L435.1 264.6Z" fill="#c7edfc"/>
<circle cx="437.1" cy="260.9" r="4.2" fill="#c7edfc"/>
<circle cx="319.0" cy="352.0" r="4.8" fill="#c7edfc"/>
<path d="M440.9 242.5 L441.9 242.7 L442.9 242.9 L443.8 243.1 L444.8 243.3 L445.8 243.6 L446.7 243.9 L447.7 244.2 L448.6 244.6 L449.5 245.0 L450.3 245.5 L451.2 246.0 L452.0 246.6 L452.8 247.2 L453.5 247.8 L454.3 248.5 L455.0 249.2 L455.6 249.9 L456.3 250.7 L456.9 251.5 L457.4 252.3 L457.9 253.1 L458.4 254.0 L458.8 254.9 L459.1 255.8 L459.4 256.8 L459.7 257.7 L459.8 258.7 L460.0 259.7 L460.1 260.7 L460.1 261.7 L460.0 262.7 L460.0 263.6 L459.8 264.6 L459.6 265.6 L459.4 266.6 L459.1 267.5 L458.8 268.4 L458.4 269.4 L458.0 270.3 L457.5 271.1 L457.0 272.0 L456.5 272.9 L455.9 273.7 L455.3 274.4 L454.7 275.2 L454.0 275.9 L453.2 276.5 L452.5 277.1 L451.6 277.7 L450.8 278.2 L449.9 278.6 L449.0 279.0 L448.1 279.4 L447.2 279.7 L446.2 280.0 L445.2 280.2 L444.3 280.4 L443.3 280.6 L442.3 280.7 L441.3 280.8 L440.3 280.8 L439.3 280.8 L438.3 280.8 L437.3 280.7 L436.3 280.6 L435.3 280.4 L434.4 280.2 L433.4 280.0 L432.4 279.8 L431.5 279.5 L430.5 279.2 L429.6 278.9 L428.7 278.5 L427.8 278.1 L426.9 277.6 L426.0 277.2 L425.1 276.6 L424.3 276.1 L423.5 275.5 L422.7 274.9 L422.0 274.2 L421.2 273.6 L420.5 272.9 L419.9 272.1 L419.2 271.4 L418.6 270.6 L418.0 269.8 L417.4 269.0 L416.9 268.1 L416.4 267.3 L415.9 266.4 L415.4 265.5 L415.0 264.6 L414.6 263.7 L414.2 262.8 L413.8 261.9 L413.5 260.9 L413.2 260.0 L412.9 259.0 L412.7 258.0 L412.5 257.1 L412.3 256.1 L412.1 255.1 L412.0 254.1 L411.9 253.1 L411.8 252.1 L411.8 251.1 L411.8 250.1 L411.8 249.1 L411.9 248.2 L412.1 247.2 L412.2 246.2 L412.5 245.2 L412.7 244.3 L413.0 243.3 L413.3 242.4 L413.7 241.4 L414.1 240.5 L414.5 239.6 L415.0 238.7 L415.4 237.9 L415.9 237.0 L416.5 236.2 L417.1 235.4 L417.7 234.6 L418.3 233.8 L419.0 233.0 L419.6 232.3 L420.3 231.6 L421.1 230.9 L421.8 230.3 L422.6 229.6 L423.4 229.0 L424.2 228.4 L425.0 227.8 L425.8 227.3 L426.7 226.8 L427.5 226.2 L428.4 225.7 L429.3 225.3 L430.2 224.8 L431.1 224.4 L432.0 224.0 L432.9 223.6 L433.9 223.3 L434.8 223.0 L435.8 222.7 L436.7 222.5 L437.7 222.2 L438.7 222.1 L439.7 221.9 L440.7 221.8 L441.7 221.7 L442.7 221.6 L443.7 221.6 L444.6 221.5 L445.6 221.5 L446.6 221.6 L447.6 221.6 L448.6 221.7 L449.6 221.8 L450.6 221.9 L451.6 222.0 L452.6 222.1 L453.6 222.3 L454.6 222.5 L455.6 222.7 L456.5 222.9 L457.5 223.2 L458.5 223.4 L459.4 223.7 L460.4 224.0 L461.3 224.4 L462.3 224.7 L463.2 225.1 L464.1 225.5 L465.0 225.9 L465.9 226.4 L466.8 226.8 L467.7 227.3 L468.5 227.8 L469.4 228.4 L470.2 228.9 L471.0 229.5 L471.8 230.1 L472.6 230.7 L473.4 231.3 L474.1 232.0 L474.9 232.6 L475.6 233.3 L476.4 234.0 L477.1 234.7 L477.8 235.4 L478.5 236.2 L479.1 236.9 L479.8 237.7 L480.4 238.4 L481.0 239.2 L481.6 240.0 L482.2 240.8 L482.7 241.7 L483.3 242.5 L483.8 243.4 L484.3 244.2 L484.7 245.1 L485.2 246.0 L485.6 246.9 L485.9 247.9 L486.3 248.8 L486.6 249.8 L486.8 250.7 L487.1 251.7 L487.3 252.7 L487.5 253.6 L487.6 254.6 L487.7 255.6 L487.8 256.6 L487.9 257.6 L488.0 258.6 L488.0 259.6 L488.0 260.6 L488.0 261.6 L488.0 262.6 L488.0 263.6 L488.0 264.6 L487.9 265.6 L487.9 266.6 L487.8 267.6 L487.7 268.6 L487.6 269.6 L487.5 270.6 L487.3 271.6 L487.2 272.6 L487.0 273.6 L486.7 274.5 L486.5 275.5 L486.1 276.4 L485.8 277.3 L485.3 278.2 L484.8 279.1 L484.3 279.9 L483.8 280.7 L483.2 281.5 L482.6 282.3 L482.0 283.2 L481.4 284.0 L480.9 284.8 L480.3 285.6 L479.7 286.4 L479.1 287.3 L478.6 288.1 L478.0 288.9 L477.4 289.7 L476.8 290.5 L476.2 291.3 L475.6 292.1 L474.9 292.8 L474.3 293.6 L473.6 294.4 L473.0 295.1 L472.3 295.9 L471.6 296.6 L471.0 297.4 L470.3 298.1 L469.6 298.8 L468.9 299.5 L468.2 300.2 L467.4 300.9 L466.7 301.6 L465.9 302.2 L465.2 302.9 L464.4 303.5 L463.6 304.1 L462.7 304.6 L461.9 305.2 L461.1 305.7 L460.2 306.2 L459.3 306.7 L458.4 307.2 L457.5 307.6 L456.6 308.0 L455.7 308.5 L454.8 308.9 L453.9 309.3 L453.0 309.6 L452.0 310.0 L451.1 310.4 L450.2 310.7 L449.2 311.0 L448.3 311.3 L447.3 311.6 L446.3 311.9 L445.4 312.1 L444.4 312.3 L443.4 312.5 L442.4 312.6 L441.4 312.8 L440.4 312.9 L439.4 313.0 L438.4 313.0 L437.4 313.1 L436.4 313.1 L435.4 313.2 L434.4 313.2 L433.4 313.2 L432.4 313.1 L431.4 313.1 L430.4 313.1 L429.4 313.0 L428.4 313.0 L427.4 312.9 L426.4 312.8 L425.4 312.7 L424.4 312.6 L423.4 312.5 L422.4 312.4 L421.4 312.3 L420.4 312.2 L419.5 312.0 L418.5 311.9 L417.5 311.8 L416.5 311.6 L415.5 311.5 L414.5 311.3 L413.5 311.2" fill="none" stroke="#4b98e6" stroke-width="2.8" stroke-linecap="round" stroke-linejoin="round"/>
<ellipse cx="335" cy="309" rx="16.5" ry="22.3" transform="rotate(-12 335 309)" fill="#c7edfc" />
<path d="M330 326 L330 330 C329.5 334 328.5 336 326 338.8 C323 341.5 318 345 314.5 348 C312.8 349.8 312.3 351.5 312.6 353.5 C313 356 315 357.8 318.5 358 L342 358.6 L342 349.4 C338 349 333.5 347.8 331.5 345 C330.5 343 331.5 341 332.5 338.5 C333.8 336 334.5 334 334.3 330 L334.3 326 Z" fill="#c7edfc"/>
<path d="M297.9 212.1 L297.5 211.2 L297.1 210.3 L296.8 209.3 L296.3 208.4 L295.9 207.4 L295.5 206.5 L295.1 205.5 L294.6 204.5 L294.2 203.5 L293.7 202.5 L293.2 201.5 L292.7 200.5 L292.1 199.5 L291.5 198.5 L290.9 197.5 L290.3 196.5 L289.6 195.6 L288.9 194.6 L288.2 193.7 L287.5 192.7 L286.7 191.8 L286.0 191.0 L285.2 190.1 L284.4 189.3 L283.6 188.5 L282.8 187.7 L282.0 186.9 L281.2 186.2 L280.3 185.5 L279.5 184.7 L278.7 184.0 L277.8 183.3 L277.0 182.7 L276.1 182.0 L275.2 181.4 L274.3 180.7 L273.5 180.1 L272.6 179.5 L271.7 178.9 L270.8 178.3 L269.9 177.7 L269.0 177.2 L268.1 176.6 L267.2 176.1 L266.3 175.5 L265.5 175.0 L264.6 174.5 L263.7 173.9 L262.8 173.4 L261.9 172.9 L261.0 172.4 L260.1 171.9 L259.3 171.4 L258.4 170.9 L257.5 170.4 L256.6 169.9 L255.7 169.4 L254.8 168.9 L253.8 168.4 L252.9 167.9 L252.0 167.4 L251.1 166.9 L250.2 166.5 L249.2 166.0 L248.3 165.5 L247.3 165.1 L246.4 164.6 L245.4 164.2 L244.4 163.7 L243.5 163.3 L242.5 162.9 L241.5 162.5 L240.5 162.0 L239.5 161.6 L238.5 161.2 L237.5 160.9 L236.4 160.5 L235.4 160.1 L234.4 159.8 L233.3 159.5 L232.3 159.2 L231.2 158.9 L230.1 158.6 L229.1 158.3 L228.0 158.1 L227.0 157.8 L225.9 157.6 L224.8 157.4 L223.8 157.2 L222.7 157.0 L221.6 156.8 L220.6 156.7 L219.5 156.5 L218.4 156.4 L217.3 156.2 L216.2 156.1 L215.1 156.0 L214.0 156.0 L212.9 155.9 L211.8 155.9 L210.7 155.8 L209.6 155.8 L208.4 155.9 L207.3 155.9 L206.2 156.0 L205.1 156.0 L204.0 156.1 L202.9 156.3 L201.8 156.4 L200.7 156.5 L199.7 156.7 L198.6 156.9 L197.6 157.0 L196.5 157.2 L195.5 157.4 L194.5 157.6 L193.5 157.8 L192.5 158.0 L191.5 158.2 L190.5 158.4 L189.5 158.6 L188.5 158.8 L187.5 159.0 L186.5 159.2 L185.5 159.4 L184.4 159.7 L183.4 159.9 L182.4 160.2 L181.3 160.4 L180.3 160.7 L179.2 161.0 L178.2 161.3 L177.1 161.6 L176.1 162.0 L175.0 162.3 L174.0 162.7 L173.0 163.1 L171.9 163.5 L170.9 163.9 L169.9 164.3 L168.9 164.7 L167.9 165.1 L167.0 165.6 L166.0 166.0 L165.0 166.5 L164.0 167.0 L163.1 167.5 L162.1 168.0 L161.2 168.5 L160.2 169.0 L159.3 169.5 L158.3 170.0 L157.4 170.6 L156.5 171.1 L155.6 171.7 L154.7 172.2 L153.7 172.8 L152.8 173.4 L151.9 174.0 L151.0 174.6 L150.1 175.2 L149.2 175.9 L148.3 176.5 L147.5 177.2 L146.6 177.9 L145.7 178.6 L144.9 179.3 L144.0 180.0 L143.2 180.7 L142.4 181.5 L141.6 182.2 L140.8 183.0 L140.0 183.7 L139.2 184.5 L138.4 185.3 L137.7 186.1 L137.0 186.8 L136.2 187.6 L135.5 188.4 L134.8 189.2 L134.1 190.0 L133.4 190.8 L132.7 191.6 L132.0 192.4 L131.4 193.2 L130.7 194.0 L130.0 194.8 L129.4 195.6 L128.7 196.4 L128.1 197.2 L127.4 198.0 L126.8 198.8 L126.1 199.6 L125.5 200.4 L124.9 201.3 L124.2 202.1 L123.6 203.0 L123.0 203.8 L122.3 204.7 L121.7 205.6 L121.1 206.5 L120.5 207.5 L119.9 208.4 L119.3 209.4 L118.7 210.4 L118.1 211.4 L117.6 212.4 L117.0 213.4 L116.5 214.5 L116.0 215.5 L115.6 216.6 L115.1 217.7 L114.7 218.8 L114.3 219.9 L113.9 221.0 L113.6 222.1 L113.3 223.2 L113.0 224.4 L112.7 225.5 L112.4 226.6 L112.2 227.7 L112.0 228.8 L111.8 229.9 L111.6 230.9 L111.4 232.0 L111.2 233.1 L111.1 234.2 L110.9 235.3 L110.8 236.3 L110.7 237.4 L110.6 238.5 L110.5 239.5 L110.4 240.6 L110.3 241.7 L110.2 242.7 L110.1 243.8 L110.1 244.9 L110.0 245.9 L110.0 247.0 L109.9 248.0 L109.9 249.1 L109.9 250.1 L109.8 251.2 L109.8 252.2 L109.8 253.2 L109.8 254.3 L109.8 255.3 L109.8 256.4 L109.8 257.4 L109.8 258.4 L109.8 259.5 L109.8 260.5 L109.9 261.6 L109.9 262.6 L109.9 263.7 L110.0 264.7 L110.0 265.8 L110.1 266.8 L110.1 267.9 L110.2 268.9 L110.2 270.0 L110.3 271.0 L110.4 272.1 L110.5 273.2 L110.6 274.2 L110.7 275.3 L110.8 276.4 L110.9 277.4 L111.0 278.5 L111.2 279.6 L111.3 280.7 L111.5 281.7 L111.6 282.8 L111.8 283.9 L112.0 285.0 L112.2 286.0 L112.4 287.1 L112.6 288.1 L112.8 289.2 L113.0 290.2 L113.2 291.3 L113.5 292.3 L113.7 293.4 L114.0 294.4 L114.2 295.4 L114.5 296.4 L114.8 297.5 L115.1 298.5 L115.4 299.5 L115.7 300.5 L116.0 301.5 L116.3 302.6 L116.7 303.6 L117.0 304.6 L117.4 305.6 L117.8 306.6 L118.2 307.7 L118.6 308.7 L119.1 309.7 L119.5 310.8 L120.0 311.8 L120.5 312.8 L121.0 313.8 L121.5 314.8 L122.1 315.9 L122.6 316.8 L123.2 317.8 L123.8 318.8 L124.4 319.8 L125.0 320.7 L125.6 321.7 L126.3 322.6 L126.9 323.5 L127.6 324.4 L128.2 325.3 L128.9 326.2 L129.6 327.1 L130.3 328.0 L131.1 328.8 L131.8 329.7 L132.6 330.5 L133.3 331.4 L134.1 332.2 L134.9 333.0 L135.8 333.8 L136.6 334.6 L137.4 335.3 L138.2 336.1 L139.1 336.8 L139.9 337.5 L140.7 338.2 L141.5 338.9 L142.4 339.5 L143.2 340.2 L143.9 340.8 L144.7 341.4 L145.5 342.0 L146.3 342.6 L147.1 343.2 L147.8 343.8 L148.6 344.5 L149.4 345.1 L150.2 345.7 L151.0 346.3 L151.8 347.0 L152.6 347.6 L153.5 348.3 L154.3 348.9 L155.2 349.6 L156.1 350.2 L157.1 350.9 L158.0 351.5 L159.0 352.1 L160.0 352.7 L161.0 353.3 L162.0 353.9 L163.0 354.5 L164.1 355.0 L165.1 355.5 L166.2 356.0 L167.3 356.5 L168.3 356.9 L169.4 357.4 L170.5 357.8 L171.6 358.2 L172.7 358.5 L173.8 358.8 L175.0 359.2 L176.1 359.4 L177.2 359.7 L178.4 359.9 L179.5 360.1 L180.7 360.3 L181.9 360.5 L183.1 360.6 L184.2 360.7 L185.4 360.7 L186.6 360.7 L187.7 360.7 L188.9 360.7 L190.0 360.7 L191.1 360.6 L192.2 360.5 L193.3 360.4 L194.3 360.4 L195.4 360.2 L196.4 360.1 L197.5 360.0 L198.5 359.9 L199.5 359.8 L200.6 359.7 L201.6 359.6 L202.6 359.4 L203.7 359.3 L204.7 359.2 L205.8 359.0 L206.8 358.9 L207.9 358.8 L208.9 358.6 L210.0 358.4 L211.1 358.2 L212.2 358.0 L213.3 357.8 L214.4 357.6 L215.5 357.4 L216.6 357.1 L217.7 356.9 L218.8 356.6 L219.9 356.3 L220.9 356.0 L222.0 355.6 L223.0 355.3 L224.0 355.0 L225.0 354.7 L226.0 354.3 L227.0 354.0 L227.9 353.6 L228.9 353.3 L229.8 353.0 L230.7 352.6 L231.7 352.3 L232.6 351.9 L233.5 351.6 L234.4 351.2 L235.3 350.9 L236.3 350.5 L237.2 350.2 L238.1 349.8 L239.1 349.4 L232.9 333.6 L232.0 333.9 L231.1 334.3 L230.1 334.6 L229.2 335.0 L228.3 335.4 L227.3 335.7 L226.4 336.1 L225.4 336.5 L224.5 336.9 L223.6 337.3 L222.6 337.7 L221.7 338.1 L220.8 338.5 L219.9 338.9 L219.0 339.3 L218.2 339.7 L217.3 340.1 L216.5 340.5 L215.7 340.8 L214.9 341.1 L214.0 341.5 L213.2 341.7 L212.4 342.0 L211.6 342.3 L210.8 342.5 L209.9 342.8 L209.1 343.0 L208.2 343.2 L207.3 343.3 L206.4 343.5 L205.5 343.7 L204.6 343.8 L203.7 344.0 L202.7 344.1 L201.8 344.2 L200.8 344.3 L199.9 344.4 L198.9 344.5 L198.0 344.6 L197.0 344.7 L196.1 344.8 L195.1 344.9 L194.2 344.9 L193.2 345.0 L192.3 345.0 L191.4 345.0 L190.5 345.1 L189.6 345.1 L188.7 345.1 L187.9 345.0 L187.1 345.0 L186.2 344.9 L185.4 344.9 L184.6 344.8 L183.8 344.7 L183.0 344.5 L182.2 344.4 L181.4 344.3 L180.6 344.1 L179.8 343.9 L179.0 343.7 L178.3 343.5 L177.5 343.2 L176.7 343.0 L175.9 342.7 L175.1 342.4 L174.4 342.1 L173.6 341.8 L172.9 341.5 L172.1 341.1 L171.4 340.7 L170.7 340.4 L170.0 340.0 L169.3 339.5 L168.6 339.1 L167.9 338.6 L167.2 338.1 L166.5 337.6 L165.8 337.1 L165.2 336.5 L164.5 336.0 L163.8 335.4 L163.1 334.8 L162.3 334.2 L161.6 333.5 L160.9 332.9 L160.1 332.2 L159.4 331.6 L158.6 330.9 L157.9 330.2 L157.1 329.6 L156.3 328.9 L155.6 328.2 L154.8 327.6 L154.1 326.9 L153.3 326.3 L152.6 325.7 L151.9 325.1 L151.2 324.4 L150.5 323.8 L149.9 323.2 L149.2 322.6 L148.6 322.0 L148.0 321.4 L147.4 320.8 L146.8 320.2 L146.3 319.5 L145.7 318.9 L145.1 318.2 L144.6 317.6 L144.1 316.9 L143.5 316.2 L143.0 315.5 L142.5 314.8 L142.0 314.1 L141.5 313.4 L141.0 312.6 L140.6 311.9 L140.1 311.2 L139.7 310.4 L139.2 309.7 L138.8 308.9 L138.4 308.2 L138.0 307.4 L137.6 306.6 L137.3 305.9 L136.9 305.1 L136.6 304.3 L136.2 303.5 L135.9 302.7 L135.6 301.9 L135.3 301.1 L135.0 300.2 L134.7 299.4 L134.4 298.5 L134.1 297.7 L133.8 296.8 L133.5 295.9 L133.2 295.0 L133.0 294.1 L132.7 293.2 L132.4 292.3 L132.1 291.4 L131.9 290.5 L131.6 289.6 L131.3 288.7 L131.1 287.8 L130.8 286.9 L130.6 286.0 L130.3 285.1 L130.1 284.2 L129.9 283.3 L129.6 282.4 L129.4 281.5 L129.2 280.7 L129.1 279.8 L128.9 278.9 L128.7 278.0 L128.6 277.1 L128.4 276.2 L128.3 275.2 L128.2 274.3 L128.1 273.4 L128.0 272.5 L127.9 271.6 L127.8 270.7 L127.7 269.7 L127.6 268.8 L127.6 267.9 L127.5 266.9 L127.5 266.0 L127.4 265.0 L127.4 264.1 L127.4 263.1 L127.4 262.2 L127.3 261.2 L127.3 260.3 L127.3 259.3 L127.3 258.3 L127.3 257.4 L127.3 256.4 L127.3 255.5 L127.3 254.5 L127.4 253.5 L127.4 252.6 L127.4 251.6 L127.4 250.7 L127.5 249.7 L127.5 248.8 L127.6 247.8 L127.6 246.9 L127.7 245.9 L127.8 245.0 L127.8 244.1 L127.9 243.1 L128.0 242.2 L128.1 241.3 L128.2 240.4 L128.3 239.5 L128.4 238.6 L128.6 237.6 L128.7 236.7 L128.9 235.8 L129.0 235.0 L129.2 234.1 L129.3 233.2 L129.5 232.3 L129.7 231.5 L129.9 230.6 L130.1 229.8 L130.3 228.9 L130.6 228.1 L130.8 227.3 L131.0 226.5 L131.3 225.8 L131.6 225.0 L131.9 224.2 L132.1 223.5 L132.5 222.7 L132.8 222.0 L133.1 221.2 L133.5 220.5 L133.8 219.7 L134.2 219.0 L134.6 218.2 L135.0 217.5 L135.5 216.7 L135.9 216.0 L136.4 215.2 L136.9 214.4 L137.3 213.7 L137.8 212.9 L138.4 212.1 L138.9 211.3 L139.4 210.5 L139.9 209.7 L140.5 208.9 L141.0 208.1 L141.6 207.3 L142.1 206.6 L142.7 205.8 L143.3 205.0 L143.8 204.2 L144.4 203.4 L145.0 202.7 L145.5 201.9 L146.1 201.1 L146.7 200.4 L147.2 199.6 L147.8 198.9 L148.4 198.2 L149.0 197.4 L149.6 196.7 L150.2 196.0 L150.8 195.3 L151.4 194.6 L152.0 194.0 L152.6 193.3 L153.2 192.7 L153.8 192.0 L154.4 191.4 L155.1 190.8 L155.7 190.2 L156.4 189.6 L157.0 189.0 L157.7 188.4 L158.4 187.8 L159.1 187.3 L159.8 186.7 L160.5 186.2 L161.3 185.6 L162.0 185.1 L162.8 184.6 L163.5 184.0 L164.3 183.5 L165.1 183.0 L165.8 182.5 L166.6 182.0 L167.4 181.5 L168.2 181.1 L169.0 180.6 L169.8 180.1 L170.6 179.7 L171.4 179.3 L172.2 178.8 L173.1 178.4 L173.9 178.0 L174.7 177.6 L175.5 177.3 L176.4 176.9 L177.2 176.5 L178.0 176.2 L178.9 175.9 L179.7 175.6 L180.6 175.3 L181.4 175.0 L182.3 174.7 L183.1 174.4 L184.0 174.2 L184.9 174.0 L185.8 173.7 L186.7 173.5 L187.6 173.3 L188.5 173.1 L189.4 172.9 L190.4 172.7 L191.3 172.5 L192.3 172.3 L193.3 172.1 L194.2 171.9 L195.2 171.7 L196.1 171.5 L197.1 171.3 L198.0 171.2 L199.0 171.0 L199.9 170.8 L200.8 170.7 L201.8 170.5 L202.7 170.4 L203.6 170.3 L204.5 170.2 L205.4 170.1 L206.2 170.0 L207.1 169.9 L208.0 169.9 L208.9 169.8 L209.7 169.8 L210.6 169.8 L211.5 169.8 L212.4 169.8 L213.3 169.9 L214.1 169.9 L215.0 170.0 L215.9 170.1 L216.8 170.2 L217.7 170.3 L218.6 170.4 L219.5 170.5 L220.4 170.7 L221.3 170.8 L222.2 171.0 L223.1 171.2 L224.0 171.3 L224.9 171.5 L225.8 171.7 L226.7 172.0 L227.5 172.2 L228.4 172.4 L229.3 172.7 L230.1 173.0 L231.0 173.3 L231.8 173.6 L232.6 173.9 L233.5 174.2 L234.3 174.5 L235.2 174.9 L236.0 175.3 L236.9 175.6 L237.7 176.0 L238.6 176.4 L239.4 176.8 L240.2 177.3 L241.1 177.7 L241.9 178.1 L242.8 178.6 L243.6 179.0 L244.4 179.5 L245.3 179.9 L246.1 180.4 L246.9 180.9 L247.8 181.4 L248.6 181.8 L249.5 182.3 L250.3 182.8 L251.1 183.3 L252.0 183.8 L252.8 184.3 L253.6 184.9 L254.5 185.4 L255.3 185.9 L256.1 186.4 L257.0 186.9 L257.8 187.4 L258.6 188.0 L259.4 188.5 L260.2 189.0 L261.0 189.5 L261.8 190.1 L262.5 190.6 L263.3 191.1 L264.0 191.7 L264.8 192.2 L265.5 192.8 L266.3 193.3 L267.0 193.9 L267.7 194.4 L268.4 195.0 L269.1 195.6 L269.8 196.2 L270.5 196.7 L271.1 197.3 L271.8 197.9 L272.4 198.5 L273.0 199.1 L273.6 199.8 L274.2 200.4 L274.8 201.0 L275.3 201.6 L275.8 202.2 L276.4 202.9 L276.8 203.5 L277.3 204.2 L277.8 204.8 L278.2 205.5 L278.6 206.2 L279.1 206.9 L279.5 207.7 L279.9 208.4 L280.3 209.2 L280.6 210.0 L281.0 210.8 L281.4 211.6 L281.8 212.5 L282.2 213.4 L282.6 214.3 L282.9 215.2 L283.3 216.1 L283.7 217.0 L284.1 217.9Z" fill="#68b5f8"/>
<circle cx="291.0" cy="215.0" r="7.5" fill="#68b5f8"/>
<circle cx="236.0" cy="341.5" r="8.5" fill="#68b5f8"/>
<path d="M294.3 213.6 L293.9 212.7 L293.5 211.8 L293.1 210.9 L292.7 209.9 L292.3 209.0 L291.9 208.1 L291.5 207.1 L291.0 206.2 L290.6 205.2 L290.1 204.3 L289.7 203.3 L289.2 202.4 L288.6 201.5 L288.1 200.6 L287.5 199.6 L287.0 198.7 L286.4 197.8 L285.7 197.0 L285.1 196.1 L284.4 195.3 L283.7 194.4 L283.0 193.6 L282.3 192.8 L281.5 192.1 L280.8 191.3 L280.0 190.6 L279.3 189.8 L278.5 189.1 L277.7 188.4 L276.9 187.8 L276.1 187.1 L275.3 186.4 L274.5 185.8 L273.7 185.2 L272.8 184.5 L272.0 183.9 L271.2 183.3 L270.3 182.7 L269.5 182.1 L268.6 181.6 L267.7 181.0 L266.9 180.4 L266.0 179.9 L265.2 179.4 L264.3 178.8 L263.4 178.3 L262.5 177.8 L261.7 177.2 L260.8 176.7 L259.9 176.2 L259.1 175.7 L258.2 175.2 L257.3 174.7 L256.4 174.2 L255.6 173.7 L254.7 173.2 L253.8 172.7 L252.9 172.2 L252.0 171.7 L251.1 171.2 L250.2 170.7 L249.3 170.3 L248.4 169.8 L247.5 169.3 L246.6 168.9 L245.7 168.4 L244.7 168.0 L243.8 167.5 L242.9 167.1 L241.9 166.7 L241.0 166.3 L240.1 165.8 L239.1 165.4 L238.1 165.1 L237.2 164.7 L236.2 164.3 L235.2 164.0 L234.2 163.6 L233.2 163.3 L232.2 163.0 L231.2 162.7 L230.2 162.4 L229.2 162.1 L228.2 161.9 L227.2 161.6 L226.2 161.4 L225.2 161.2 L224.1 161.0 L223.1 160.8 L222.1 160.6 L221.1 160.4 L220.1 160.3 L219.0 160.2 L218.0 160.0 L217.0 159.9 L215.9 159.8 L214.9 159.7 L213.8 159.7 L212.8 159.6 L211.7 159.6 L210.7 159.5 L209.6 159.6 L208.6 159.6 L207.5 159.6 L206.5 159.7 L205.4 159.7 L204.4 159.8 L203.3 159.9 L202.3 160.1 L201.3 160.2 L200.2 160.4 L199.2 160.5 L198.2 160.7 L197.2 160.9 L196.2 161.0 L195.2 161.2 L194.2 161.4 L193.2 161.6 L192.2 161.8 L191.2 162.0 L190.2 162.2 L189.2 162.4 L188.3 162.6 L187.3 162.8 L186.3 163.0 L185.3 163.3 L184.3 163.5 L183.3 163.8 L182.3 164.0 L181.3 164.3 L180.3 164.6 L179.3 164.9 L178.3 165.2 L177.3 165.5 L176.3 165.8 L175.3 166.2 L174.3 166.6 L173.3 166.9 L172.4 167.3 L171.4 167.7 L170.5 168.1 L169.5 168.6 L168.6 169.0 L167.6 169.4 L166.7 169.9 L165.8 170.4 L164.9 170.8 L163.9 171.3 L163.0 171.8 L162.1 172.3 L161.2 172.8 L160.3 173.3 L159.4 173.9 L158.6 174.4 L157.7 174.9 L156.8 175.5 L155.9 176.1 L155.1 176.6 L154.2 177.2 L153.4 177.8 L152.5 178.4 L151.7 179.0 L150.8 179.7 L150.0 180.3 L149.2 181.0 L148.4 181.6 L147.6 182.3 L146.8 183.0 L146.0 183.7 L145.2 184.4 L144.5 185.2 L143.7 185.9 L143.0 186.6 L142.3 187.4 L141.6 188.1 L140.8 188.9 L140.1 189.7 L139.5 190.4 L138.8 191.2 L138.1 192.0 L137.4 192.7 L136.8 193.5 L136.1 194.3 L135.5 195.1 L134.8 195.9 L134.2 196.7 L133.5 197.5 L132.9 198.3 L132.3 199.1 L131.7 199.9 L131.0 200.7 L130.4 201.5 L129.8 202.3 L129.2 203.1 L128.6 203.9 L128.0 204.8 L127.4 205.6 L126.8 206.4 L126.2 207.3 L125.6 208.2 L125.0 209.0 L124.4 209.9 L123.9 210.8 L123.3 211.7 L122.8 212.6 L122.3 213.6 L121.8 214.5 L121.3 215.5 L120.8 216.5 L120.4 217.4 L120.0 218.4 L119.5 219.4 L119.2 220.4 L118.8 221.5 L118.5 222.5 L118.1 223.5 L117.8 224.5 L117.6 225.6 L117.3 226.6 L117.1 227.6 L116.8 228.7 L116.6 229.7 L116.4 230.7 L116.2 231.8 L116.1 232.8 L115.9 233.8 L115.7 234.9 L115.6 235.9 L115.5 236.9 L115.4 237.9 L115.2 239.0 L115.1 240.0 L115.0 241.0 L115.0 242.1 L114.9 243.1 L114.8 244.1 L114.7 245.1 L114.7 246.2 L114.6 247.2 L114.6 248.2 L114.6 249.2 L114.5 250.3 L114.5 251.3 L114.5 252.3 L114.5 253.3 L114.4 254.3 L114.4 255.4 L114.4 256.4 L114.4 257.4 L114.4 258.4 L114.5 259.4 L114.5 260.5 L114.5 261.5 L114.5 262.5 L114.6 263.5 L114.6 264.5 L114.6 265.6 L114.7 266.6 L114.7 267.6 L114.8 268.6 L114.9 269.7 L114.9 270.7 L115.0 271.7 L115.1 272.7 L115.2 273.8 L115.3 274.8 L115.4 275.8 L115.5 276.9 L115.7 277.9 L115.8 278.9 L115.9 280.0 L116.1 281.0 L116.3 282.0 L116.4 283.0 L116.6 284.1 L116.8 285.1 L117.0 286.1 L117.2 287.1 L117.4 288.1 L117.7 289.1 L117.9 290.1 L118.1 291.1 L118.4 292.1 L118.6 293.1 L118.9 294.1 L119.2 295.1 L119.4 296.1 L119.7 297.1 L120.0 298.1 L120.3 299.1 L120.6 300.0 L121.0 301.0 L121.3 302.0 L121.6 303.0 L122.0 304.0 L122.4 304.9 L122.7 305.9 L123.1 306.9 L123.5 307.9 L124.0 308.8 L124.4 309.8 L124.8 310.8 L125.3 311.7 L125.8 312.7 L126.3 313.6 L126.8 314.5 L127.3 315.5 L127.9 316.4 L128.4 317.3 L129.0 318.2 L129.6 319.1 L130.2 320.0 L130.8 320.8 L131.4 321.7 L132.0 322.5 L132.7 323.4 L133.3 324.2 L134.0 325.0 L134.7 325.8 L135.3 326.7 L136.0 327.4 L136.8 328.2 L137.5 329.0 L138.2 329.8 L139.0 330.5 L139.8 331.2 L140.5 332.0 L141.3 332.7 L142.1 333.4 L142.9 334.0 L143.7 334.7 L144.5 335.4 L145.3 336.0 L146.0 336.6 L146.8 337.3 L147.6 337.9 L148.4 338.5 L149.2 339.2 L149.9 339.8 L150.7 340.4 L151.5 341.0 L152.2 341.7 L153.0 342.3 L153.8 342.9 L154.6 343.6 L155.4 344.2 L156.2 344.9 L157.0 345.5 L157.9 346.1 L158.7 346.7 L159.6 347.4 L160.5 348.0 L161.3 348.5 L162.3 349.1 L163.2 349.7 L164.1 350.2 L165.1 350.7 L166.0 351.2 L167.0 351.7 L167.9 352.2 L168.9 352.6 L169.9 353.0 L170.9 353.4 L171.9 353.8 L172.9 354.1 L174.0 354.5 L175.0 354.8 L176.0 355.1 L177.1 355.3 L178.1 355.6 L179.2 355.8 L180.3 356.0 L181.3 356.1 L182.4 356.3 L183.5 356.4 L184.5 356.5 L185.6 356.5 L186.7 356.6 L187.8 356.6 L188.8 356.6 L189.9 356.5 L190.9 356.5 L192.0 356.4 L193.0 356.4 L194.0 356.3 L195.1 356.2 L196.1 356.1 L197.1 356.0 L198.1 355.9 L199.1 355.8 L200.1 355.7 L201.2 355.6 L202.2 355.4 L203.2 355.3 L204.2 355.2 L205.2 355.0 L206.2 354.9 L207.2 354.8 L208.3 354.6 L209.3 354.4 L210.3 354.2 L211.4 354.0 L212.4 353.8 L213.4 353.6 L214.4 353.4 L215.5 353.1 L216.5 352.9 L217.5 352.6 L218.5 352.3 L219.5 351.9 L220.5 351.6 L221.5 351.3 L222.5 350.9 L223.5 350.6 L224.4 350.2 L225.4 349.9 L226.3 349.5 L227.2 349.2 L228.2 348.8 L229.1 348.5 L230.0 348.1 L230.9 347.7 L231.9 347.4 L232.8 347.0 L233.7 346.7 L234.6 346.3 L235.6 346.0 L236.5 345.6 L237.4 345.2 L234.6 337.8 L233.6 338.1 L232.7 338.5 L231.8 338.8 L230.8 339.2 L229.9 339.6 L228.9 339.9 L228.0 340.3 L227.1 340.7 L226.1 341.1 L225.2 341.5 L224.3 341.8 L223.4 342.2 L222.4 342.6 L221.5 343.0 L220.6 343.4 L219.7 343.8 L218.8 344.1 L217.9 344.5 L217.1 344.8 L216.2 345.2 L215.3 345.5 L214.4 345.8 L213.5 346.0 L212.6 346.3 L211.7 346.5 L210.8 346.7 L209.9 347.0 L209.0 347.2 L208.0 347.3 L207.1 347.5 L206.1 347.7 L205.2 347.8 L204.2 348.0 L203.3 348.1 L202.3 348.2 L201.3 348.3 L200.3 348.4 L199.4 348.5 L198.4 348.6 L197.4 348.7 L196.4 348.8 L195.5 348.9 L194.5 349.0 L193.5 349.0 L192.6 349.1 L191.6 349.1 L190.6 349.2 L189.7 349.2 L188.8 349.2 L187.8 349.2 L186.9 349.2 L186.0 349.1 L185.1 349.0 L184.2 349.0 L183.3 348.9 L182.4 348.7 L181.5 348.6 L180.6 348.4 L179.7 348.2 L178.8 348.0 L178.0 347.8 L177.1 347.6 L176.2 347.3 L175.3 347.0 L174.5 346.7 L173.6 346.4 L172.8 346.1 L171.9 345.7 L171.1 345.3 L170.3 344.9 L169.4 344.5 L168.6 344.1 L167.9 343.7 L167.1 343.2 L166.3 342.7 L165.5 342.2 L164.8 341.7 L164.0 341.1 L163.3 340.6 L162.5 340.0 L161.8 339.4 L161.0 338.8 L160.3 338.2 L159.6 337.6 L158.8 336.9 L158.1 336.3 L157.3 335.6 L156.5 335.0 L155.8 334.3 L155.0 333.7 L154.2 333.0 L153.5 332.4 L152.7 331.7 L151.9 331.1 L151.2 330.4 L150.4 329.8 L149.7 329.2 L148.9 328.5 L148.2 327.9 L147.5 327.3 L146.8 326.6 L146.1 326.0 L145.4 325.3 L144.8 324.7 L144.1 324.0 L143.5 323.3 L142.8 322.7 L142.2 322.0 L141.6 321.3 L141.0 320.5 L140.4 319.8 L139.8 319.1 L139.3 318.3 L138.7 317.6 L138.2 316.8 L137.6 316.0 L137.1 315.3 L136.6 314.5 L136.1 313.7 L135.6 312.9 L135.1 312.1 L134.7 311.3 L134.2 310.5 L133.8 309.6 L133.4 308.8 L133.0 308.0 L132.6 307.1 L132.2 306.3 L131.8 305.4 L131.5 304.6 L131.1 303.7 L130.8 302.8 L130.4 301.9 L130.1 301.0 L129.8 300.1 L129.5 299.2 L129.2 298.3 L128.9 297.4 L128.6 296.5 L128.3 295.5 L128.0 294.6 L127.7 293.7 L127.5 292.7 L127.2 291.8 L126.9 290.9 L126.7 289.9 L126.4 289.0 L126.2 288.1 L125.9 287.1 L125.7 286.2 L125.4 285.3 L125.2 284.3 L125.0 283.4 L124.8 282.5 L124.6 281.5 L124.4 280.6 L124.3 279.6 L124.1 278.7 L124.0 277.7 L123.8 276.8 L123.7 275.8 L123.6 274.9 L123.5 273.9 L123.4 273.0 L123.3 272.0 L123.2 271.0 L123.1 270.1 L123.0 269.1 L123.0 268.1 L122.9 267.2 L122.9 266.2 L122.8 265.2 L122.8 264.2 L122.8 263.3 L122.7 262.3 L122.7 261.3 L122.7 260.3 L122.7 259.3 L122.7 258.4 L122.7 257.4 L122.7 256.4 L122.7 255.4 L122.7 254.4 L122.7 253.5 L122.7 252.5 L122.8 251.5 L122.8 250.5 L122.8 249.5 L122.9 248.6 L122.9 247.6 L123.0 246.6 L123.0 245.7 L123.1 244.7 L123.2 243.7 L123.2 242.8 L123.3 241.8 L123.4 240.8 L123.5 239.9 L123.6 238.9 L123.8 238.0 L123.9 237.0 L124.0 236.1 L124.2 235.1 L124.3 234.2 L124.5 233.2 L124.7 232.3 L124.9 231.4 L125.1 230.5 L125.3 229.5 L125.5 228.6 L125.7 227.7 L126.0 226.8 L126.2 226.0 L126.5 225.1 L126.8 224.2 L127.1 223.4 L127.4 222.5 L127.8 221.7 L128.1 220.8 L128.5 220.0 L128.9 219.2 L129.3 218.3 L129.7 217.5 L130.1 216.7 L130.6 215.9 L131.0 215.1 L131.5 214.3 L132.0 213.5 L132.5 212.7 L133.0 211.9 L133.5 211.1 L134.1 210.3 L134.6 209.4 L135.2 208.6 L135.7 207.8 L136.3 207.0 L136.9 206.2 L137.4 205.4 L138.0 204.7 L138.6 203.9 L139.2 203.1 L139.8 202.3 L140.3 201.5 L140.9 200.7 L141.5 199.9 L142.1 199.2 L142.7 198.4 L143.3 197.6 L143.9 196.9 L144.6 196.1 L145.2 195.4 L145.8 194.6 L146.4 193.9 L147.1 193.2 L147.7 192.5 L148.3 191.8 L149.0 191.1 L149.7 190.4 L150.3 189.7 L151.0 189.0 L151.7 188.4 L152.4 187.7 L153.1 187.1 L153.8 186.5 L154.5 185.9 L155.2 185.3 L156.0 184.7 L156.7 184.1 L157.5 183.5 L158.3 182.9 L159.0 182.4 L159.8 181.8 L160.6 181.3 L161.4 180.8 L162.2 180.2 L163.0 179.7 L163.9 179.2 L164.7 178.7 L165.5 178.2 L166.3 177.7 L167.2 177.3 L168.0 176.8 L168.9 176.3 L169.7 175.9 L170.6 175.5 L171.4 175.0 L172.3 174.6 L173.2 174.2 L174.1 173.8 L174.9 173.4 L175.8 173.1 L176.7 172.7 L177.6 172.4 L178.5 172.1 L179.4 171.7 L180.3 171.4 L181.2 171.2 L182.1 170.9 L183.0 170.6 L183.9 170.4 L184.9 170.1 L185.8 169.9 L186.7 169.7 L187.7 169.5 L188.6 169.3 L189.6 169.1 L190.6 168.9 L191.6 168.7 L192.5 168.5 L193.5 168.3 L194.5 168.1 L195.4 167.9 L196.4 167.7 L197.4 167.5 L198.3 167.3 L199.3 167.2 L200.3 167.0 L201.2 166.9 L202.2 166.7 L203.1 166.6 L204.1 166.5 L205.0 166.4 L205.9 166.3 L206.9 166.2 L207.8 166.2 L208.8 166.1 L209.7 166.1 L210.6 166.1 L211.6 166.1 L212.5 166.2 L213.5 166.2 L214.4 166.3 L215.3 166.3 L216.3 166.4 L217.2 166.5 L218.2 166.6 L219.1 166.8 L220.1 166.9 L221.0 167.0 L222.0 167.2 L222.9 167.4 L223.9 167.6 L224.8 167.8 L225.7 168.0 L226.7 168.2 L227.6 168.4 L228.5 168.7 L229.4 168.9 L230.3 169.2 L231.2 169.5 L232.1 169.8 L233.0 170.1 L233.9 170.4 L234.8 170.8 L235.7 171.1 L236.6 171.5 L237.5 171.9 L238.4 172.3 L239.2 172.7 L240.1 173.1 L241.0 173.5 L241.9 173.9 L242.7 174.3 L243.6 174.8 L244.5 175.2 L245.3 175.7 L246.2 176.1 L247.1 176.6 L247.9 177.1 L248.8 177.6 L249.6 178.1 L250.5 178.5 L251.3 179.0 L252.2 179.5 L253.0 180.0 L253.9 180.5 L254.7 181.0 L255.6 181.6 L256.4 182.1 L257.3 182.6 L258.1 183.1 L259.0 183.6 L259.8 184.1 L260.6 184.7 L261.5 185.2 L262.3 185.7 L263.1 186.3 L263.9 186.8 L264.7 187.3 L265.5 187.9 L266.3 188.4 L267.1 189.0 L267.9 189.6 L268.6 190.1 L269.4 190.7 L270.1 191.3 L270.9 191.9 L271.6 192.5 L272.4 193.1 L273.1 193.8 L273.8 194.4 L274.5 195.0 L275.2 195.7 L275.8 196.3 L276.5 197.0 L277.1 197.7 L277.7 198.3 L278.3 199.0 L278.9 199.7 L279.5 200.4 L280.0 201.1 L280.6 201.9 L281.1 202.6 L281.6 203.4 L282.1 204.2 L282.5 205.0 L283.0 205.8 L283.4 206.6 L283.8 207.4 L284.2 208.3 L284.6 209.1 L285.0 210.0 L285.4 210.9 L285.8 211.8 L286.2 212.7 L286.6 213.6 L287.0 214.5 L287.4 215.4 L287.7 216.4Z" fill="#c7edfc"/>
<circle cx="291.0" cy="215.0" r="3.5" fill="#c7edfc"/>
<circle cx="236.0" cy="341.5" r="4.0" fill="#c7edfc"/>
<path d="M262.1 271.2 L261.2 270.8 L260.3 270.3 L259.4 269.9 L258.5 269.4 L257.6 269.0 L256.7 268.5 L255.8 268.1 L255.0 267.7 L254.1 267.2 L253.2 266.8 L252.3 266.3 L251.4 265.9 L250.5 265.4 L249.6 265.0 L248.7 264.5 L247.8 264.1 L246.9 263.6 L246.0 263.2 L245.1 262.7 L244.2 262.3 L243.3 261.8 L242.4 261.3 L241.4 260.9 L240.5 260.4 L239.5 260.0 L238.6 259.5 L237.6 259.1 L236.7 258.7 L235.7 258.3 L234.8 257.8 L233.8 257.4 L232.9 257.0 L231.9 256.6 L231.0 256.3 L230.0 255.9 L229.0 255.5 L228.1 255.1 L227.1 254.7 L226.2 254.4 L225.2 254.0 L224.2 253.6 L223.3 253.3 L222.3 252.9 L221.3 252.6 L220.4 252.2 L219.4 251.9 L218.4 251.5 L217.4 251.2 L216.4 250.9 L215.4 250.5 L214.4 250.2 L213.4 249.9 L212.4 249.6 L211.4 249.3 L210.4 249.0 L209.3 248.7 L208.3 248.4 L207.3 248.1 L206.3 247.8 L205.2 247.5 L204.2 247.3 L203.2 247.0 L202.2 246.8 L201.1 246.5 L200.1 246.3 L199.1 246.0 L198.1 245.8 L197.0 245.6 L196.0 245.4 L195.0 245.2 L194.0 245.0 L192.9 244.8 L191.9 244.6 L190.9 244.4 L189.9 244.2 L188.8 244.0 L187.8 243.8 L186.8 243.7 L185.7 243.5 L184.7 243.4 L183.6 243.2 L182.6 243.1 L181.5 243.0 L180.5 242.9 L179.4 242.8 L178.3 242.7 L177.3 242.6 L176.2 242.5 L175.1 242.5 L174.1 242.4 L173.0 242.4 L171.9 242.3 L170.9 242.3 L169.8 242.3 L168.8 242.2 L167.7 242.2 L166.7 242.2 L165.7 242.2 L164.6 242.2 L163.6 242.2 L162.5 242.2 L161.5 242.2 L160.5 242.2 L159.4 242.2 L158.3 242.2 L157.3 242.2 L156.2 242.3 L155.2 242.3 L154.1 242.3 L153.0 242.4 L152.0 242.5 L150.9 242.6 L149.8 242.6 L148.7 242.8 L147.7 242.9 L146.6 243.0 L145.5 243.2 L144.4 243.3 L143.3 243.5 L142.3 243.7 L141.2 243.9 L140.2 244.1 L139.1 244.4 L138.1 244.6 L137.0 244.8 L136.0 245.1 L135.0 245.3 L134.0 245.6 L133.0 245.8 L132.0 246.1 L131.0 246.4 L130.0 246.6 L129.0 246.9 L128.0 247.1 L127.0 247.4 L126.1 247.7 L125.1 248.0 L124.1 248.2 L123.1 248.5 L122.1 248.8 L121.1 249.1 L120.1 249.4 L119.1 249.7 L118.1 250.1 L117.0 250.4 L116.0 250.8 L115.0 251.1 L114.0 251.5 L113.0 251.9 L111.9 252.3 L110.9 252.7 L109.9 253.2 L108.9 253.6 L107.9 254.1 L106.9 254.6 L105.9 255.1 L104.9 255.6 L103.9 256.1 L103.0 256.7 L102.0 257.3 L101.1 257.8 L100.1 258.4 L99.2 259.0 L98.3 259.7 L97.4 260.3 L96.5 260.9 L95.6 261.6 L94.7 262.3 L93.9 262.9 L93.0 263.7 L92.1 264.4 L91.3 265.1 L90.4 265.9 L89.6 266.7 L88.8 267.5 L88.0 268.3 L87.2 269.1 L86.4 270.0 L85.7 270.9 L84.9 271.8 L84.2 272.7 L83.5 273.7 L82.9 274.6 L82.2 275.6 L81.6 276.6 L81.0 277.7 L80.4 278.7 L79.9 279.8 L79.3 280.9 L78.8 282.0 L78.4 283.1 L78.0 284.3 L77.6 285.5 L77.2 286.7 L77.0 288.0 L76.7 289.3 L76.6 290.6 L76.5 292.0 L76.5 293.4 L76.6 294.8 L76.8 296.2 L77.0 297.6 L77.4 299.0 L77.8 300.3 L78.4 301.6 L79.0 302.8 L79.6 304.0 L80.3 305.2 L81.1 306.3 L81.9 307.4 L82.8 308.4 L83.7 309.3 L84.6 310.2 L85.5 311.1 L86.5 311.9 L87.5 312.7 L88.5 313.4 L89.5 314.1 L90.6 314.7 L91.6 315.4 L92.7 315.9 L93.7 316.5 L94.8 317.0 L95.9 317.5 L96.9 317.9 L98.0 318.3 L99.1 318.7 L100.1 319.1 L101.2 319.5 L102.3 319.8 L103.3 320.1 L104.4 320.4 L105.5 320.7 L106.5 321.0 L107.5 321.2 L108.6 321.5 L109.6 321.7 L110.6 321.9 L111.6 322.1 L112.7 322.4 L113.7 322.6 L114.7 322.8 L115.7 323.0 L116.7 323.2 L117.7 323.4 L118.7 323.5 L119.7 323.7 L120.7 323.9 L121.7 324.1 L122.7 324.3 L123.8 324.5 L124.8 324.6 L125.8 324.8 L126.8 325.0 L127.8 325.1 L128.8 325.3 L129.9 325.4 L130.9 325.6 L132.0 325.7 L133.0 325.9 L134.1 326.0 L135.2 326.1 L136.3 326.2 L137.4 326.3 L138.5 326.4 L139.6 326.4 L140.7 326.5 L141.7 326.5 L142.8 326.5 L143.9 326.6 L144.9 326.6 L145.9 326.6 L146.9 326.6 L147.9 326.6 L148.9 326.6 L149.8 326.6 L150.8 326.6 L151.7 326.6 L152.7 326.7 L153.7 326.7 L154.6 326.7 L155.6 326.8 L156.6 326.8 L157.7 326.8 L158.7 326.9 L159.8 326.9 L160.8 326.9 L161.9 326.9 L163.0 326.9 L164.1 326.9 L165.2 326.9 L166.3 326.8 L167.3 326.8 L168.4 326.7 L169.5 326.6 L170.6 326.5 L171.6 326.5 L172.7 326.4 L173.7 326.2 L174.7 326.1 L175.8 326.0 L176.8 325.9 L177.8 325.8 L178.8 325.7 L179.8 325.6 L180.7 325.5 L181.7 325.4 L182.7 325.3 L183.7 325.2 L184.7 325.1 L185.7 325.0 L186.6 324.9 L187.6 324.8 L188.6 324.7 L189.6 324.6 L190.6 324.5 L191.6 324.4 L192.6 324.3 L193.6 324.3 L194.6 324.2 L195.6 324.1 L196.6 324.0 L197.6 323.9 L198.6 323.8 L199.6 323.7 L200.6 323.6 L201.6 323.5 L202.6 323.4 L203.6 323.3 L204.6 323.3 L205.6 323.2 L206.6 323.1 L207.6 323.0 L208.7 322.9 L209.7 322.8 L210.7 322.6 L211.7 322.5 L212.8 322.4 L213.8 322.3 L214.9 322.2 L215.9 322.1 L217.0 321.9 L218.0 321.8 L219.1 321.7 L220.1 321.5 L221.2 321.4 L222.2 321.2 L223.3 321.0 L224.3 320.9 L225.4 320.7 L226.4 320.5 L227.4 320.4 L228.4 320.2 L229.4 320.0 L230.3 319.9 L231.3 319.7 L232.3 319.5 L233.2 319.3 L234.2 319.2 L235.1 319.0 L236.1 318.8 L237.0 318.6 L238.0 318.5 L239.0 318.3 L239.9 318.1 L240.9 317.9 L241.9 317.7 L242.9 317.5 L243.8 317.3 L240.2 297.7 L239.2 297.9 L238.2 298.0 L237.2 298.2 L236.2 298.4 L235.2 298.6 L234.2 298.8 L233.2 299.0 L232.2 299.2 L231.2 299.4 L230.2 299.6 L229.2 299.9 L228.2 300.1 L227.2 300.3 L226.2 300.6 L225.2 300.8 L224.2 301.1 L223.3 301.3 L222.3 301.6 L221.4 301.8 L220.5 302.1 L219.5 302.3 L218.6 302.5 L217.7 302.7 L216.8 302.9 L215.9 303.1 L215.0 303.3 L214.1 303.5 L213.1 303.7 L212.2 303.9 L211.3 304.0 L210.3 304.2 L209.4 304.3 L208.4 304.5 L207.5 304.6 L206.5 304.8 L205.5 304.9 L204.6 305.0 L203.6 305.1 L202.6 305.3 L201.6 305.4 L200.7 305.5 L199.7 305.6 L198.7 305.8 L197.7 305.9 L196.7 306.0 L195.7 306.1 L194.7 306.2 L193.7 306.3 L192.8 306.5 L191.8 306.6 L190.8 306.7 L189.8 306.8 L188.8 306.9 L187.8 307.0 L186.8 307.2 L185.8 307.3 L184.8 307.4 L183.8 307.5 L182.8 307.6 L181.7 307.8 L180.7 307.9 L179.7 308.0 L178.7 308.1 L177.7 308.3 L176.7 308.4 L175.7 308.5 L174.8 308.6 L173.8 308.7 L172.8 308.9 L171.9 309.0 L170.9 309.1 L170.0 309.2 L169.0 309.3 L168.1 309.4 L167.2 309.4 L166.3 309.5 L165.4 309.6 L164.5 309.6 L163.6 309.6 L162.7 309.7 L161.8 309.7 L160.8 309.7 L159.9 309.7 L159.0 309.7 L158.0 309.7 L157.0 309.7 L156.0 309.7 L155.0 309.7 L154.0 309.7 L153.0 309.7 L151.9 309.7 L150.9 309.7 L149.8 309.7 L148.8 309.7 L147.8 309.7 L146.7 309.8 L145.7 309.8 L144.8 309.8 L143.8 309.8 L142.9 309.9 L141.9 309.9 L141.0 309.9 L140.1 309.9 L139.2 309.8 L138.3 309.8 L137.4 309.8 L136.5 309.7 L135.6 309.7 L134.7 309.6 L133.8 309.5 L132.9 309.4 L131.9 309.3 L131.0 309.2 L130.0 309.1 L129.0 309.0 L128.1 308.9 L127.1 308.8 L126.2 308.6 L125.2 308.5 L124.2 308.4 L123.2 308.3 L122.3 308.1 L121.3 308.0 L120.3 307.8 L119.4 307.7 L118.4 307.5 L117.5 307.4 L116.5 307.2 L115.6 307.1 L114.6 306.9 L113.7 306.7 L112.7 306.6 L111.8 306.4 L110.9 306.2 L110.0 306.0 L109.1 305.8 L108.2 305.6 L107.3 305.4 L106.5 305.2 L105.6 305.0 L104.8 304.7 L104.0 304.5 L103.1 304.2 L102.4 303.9 L101.6 303.6 L100.8 303.3 L100.1 303.0 L99.4 302.7 L98.7 302.4 L98.0 302.0 L97.4 301.6 L96.7 301.2 L96.1 300.8 L95.6 300.4 L95.0 300.0 L94.5 299.6 L94.0 299.1 L93.6 298.6 L93.2 298.2 L92.8 297.7 L92.4 297.2 L92.1 296.7 L91.9 296.2 L91.6 295.8 L91.5 295.3 L91.3 294.8 L91.2 294.3 L91.1 293.9 L91.0 293.4 L91.0 292.9 L91.0 292.4 L91.0 291.8 L91.0 291.2 L91.1 290.6 L91.2 290.0 L91.4 289.4 L91.6 288.7 L91.8 288.0 L92.0 287.3 L92.3 286.6 L92.6 285.9 L93.0 285.2 L93.3 284.5 L93.7 283.8 L94.1 283.1 L94.5 282.4 L95.0 281.8 L95.5 281.1 L95.9 280.4 L96.5 279.8 L97.0 279.2 L97.5 278.6 L98.1 277.9 L98.7 277.4 L99.3 276.8 L99.9 276.2 L100.5 275.6 L101.2 275.1 L101.9 274.5 L102.6 274.0 L103.3 273.4 L104.0 272.9 L104.7 272.4 L105.4 271.9 L106.2 271.4 L106.9 270.9 L107.7 270.5 L108.5 270.0 L109.2 269.6 L110.0 269.1 L110.8 268.7 L111.6 268.3 L112.4 267.9 L113.1 267.5 L113.9 267.2 L114.8 266.8 L115.6 266.5 L116.4 266.2 L117.2 265.8 L118.1 265.5 L118.9 265.2 L119.8 265.0 L120.7 264.7 L121.5 264.4 L122.4 264.1 L123.3 263.9 L124.2 263.6 L125.2 263.4 L126.1 263.1 L127.0 262.9 L127.9 262.6 L128.9 262.4 L129.8 262.2 L130.8 261.9 L131.7 261.7 L132.7 261.5 L133.6 261.3 L134.6 261.1 L135.5 260.9 L136.5 260.7 L137.4 260.5 L138.4 260.3 L139.3 260.1 L140.2 259.9 L141.2 259.7 L142.1 259.6 L143.0 259.4 L143.9 259.3 L144.8 259.2 L145.7 259.0 L146.6 258.9 L147.5 258.8 L148.4 258.7 L149.3 258.7 L150.2 258.6 L151.1 258.5 L152.1 258.5 L153.0 258.4 L153.9 258.3 L154.8 258.3 L155.8 258.3 L156.7 258.2 L157.6 258.2 L158.6 258.2 L159.5 258.2 L160.5 258.2 L161.4 258.2 L162.4 258.2 L163.3 258.2 L164.3 258.3 L165.3 258.3 L166.2 258.3 L167.2 258.4 L168.1 258.5 L169.1 258.5 L170.0 258.6 L171.0 258.7 L171.9 258.8 L172.9 258.9 L173.8 259.0 L174.7 259.1 L175.6 259.2 L176.5 259.3 L177.5 259.4 L178.4 259.6 L179.3 259.7 L180.2 259.9 L181.1 260.0 L182.1 260.2 L183.0 260.3 L183.9 260.5 L184.9 260.7 L185.8 260.9 L186.7 261.0 L187.7 261.2 L188.6 261.4 L189.6 261.6 L190.5 261.8 L191.4 262.0 L192.4 262.2 L193.3 262.4 L194.2 262.7 L195.1 262.9 L196.1 263.1 L197.0 263.3 L197.9 263.6 L198.8 263.8 L199.7 264.1 L200.6 264.3 L201.5 264.6 L202.4 264.9 L203.3 265.2 L204.2 265.4 L205.1 265.7 L206.0 266.0 L206.9 266.3 L207.7 266.7 L208.6 267.0 L209.5 267.3 L210.4 267.6 L211.3 268.0 L212.2 268.3 L213.1 268.7 L214.0 269.1 L214.8 269.4 L215.7 269.8 L216.6 270.2 L217.5 270.5 L218.4 270.9 L219.3 271.3 L220.2 271.7 L221.1 272.1 L222.0 272.5 L222.9 272.9 L223.8 273.3 L224.7 273.6 L225.5 274.0 L226.4 274.4 L227.3 274.8 L228.2 275.2 L229.0 275.6 L229.9 276.0 L230.8 276.4 L231.6 276.8 L232.5 277.2 L233.4 277.7 L234.2 278.1 L235.1 278.5 L236.0 278.9 L236.9 279.4 L237.7 279.8 L238.6 280.2 L239.5 280.7 L240.4 281.1 L241.3 281.6 L242.2 282.0 L243.1 282.4 L244.0 282.9 L244.9 283.3 L245.8 283.8 L246.7 284.2 L247.6 284.7 L248.5 285.1 L249.4 285.6 L250.3 286.0 L251.2 286.4 L252.1 286.9 L253.0 287.3 L253.9 287.8Z" fill="#68b5f8"/>
<circle cx="258.0" cy="279.5" r="9.3" fill="#68b5f8"/>
<circle cx="242.0" cy="307.5" r="10.0" fill="#68b5f8"/>
<path d="M259.9 275.6 L259.0 275.2 L258.1 274.7 L257.2 274.3 L256.4 273.8 L255.5 273.4 L254.6 272.9 L253.7 272.5 L252.8 272.0 L251.9 271.6 L251.0 271.2 L250.1 270.7 L249.2 270.3 L248.3 269.8 L247.4 269.4 L246.5 268.9 L245.6 268.5 L244.7 268.0 L243.8 267.6 L242.9 267.1 L242.0 266.7 L241.1 266.2 L240.2 265.8 L239.3 265.3 L238.4 264.9 L237.4 264.5 L236.5 264.0 L235.6 263.6 L234.7 263.2 L233.7 262.8 L232.8 262.3 L231.9 261.9 L230.9 261.5 L230.0 261.1 L229.1 260.8 L228.1 260.4 L227.2 260.0 L226.2 259.6 L225.3 259.2 L224.4 258.9 L223.4 258.5 L222.5 258.1 L221.5 257.8 L220.6 257.4 L219.6 257.0 L218.7 256.7 L217.7 256.3 L216.7 256.0 L215.8 255.7 L214.8 255.3 L213.8 255.0 L212.9 254.7 L211.9 254.3 L210.9 254.0 L209.9 253.7 L209.0 253.4 L208.0 253.1 L207.0 252.8 L206.0 252.5 L205.0 252.3 L204.0 252.0 L203.0 251.7 L202.0 251.5 L201.0 251.2 L200.0 251.0 L199.0 250.7 L198.0 250.5 L197.0 250.3 L196.0 250.1 L195.0 249.8 L194.0 249.6 L193.0 249.4 L192.0 249.2 L191.0 249.0 L190.0 248.8 L189.0 248.7 L188.0 248.5 L187.0 248.3 L186.0 248.1 L185.0 248.0 L184.0 247.8 L183.0 247.7 L182.0 247.5 L180.9 247.4 L179.9 247.3 L178.9 247.2 L177.8 247.1 L176.8 247.0 L175.8 246.9 L174.8 246.8 L173.7 246.8 L172.7 246.7 L171.7 246.7 L170.7 246.6 L169.6 246.6 L168.6 246.5 L167.6 246.5 L166.6 246.5 L165.6 246.5 L164.5 246.5 L163.5 246.4 L162.5 246.4 L161.5 246.4 L160.5 246.4 L159.4 246.4 L158.4 246.5 L157.4 246.5 L156.4 246.5 L155.3 246.5 L154.3 246.6 L153.3 246.6 L152.2 246.7 L151.2 246.8 L150.2 246.9 L149.1 246.9 L148.1 247.1 L147.1 247.2 L146.0 247.3 L145.0 247.5 L144.0 247.6 L142.9 247.8 L141.9 248.0 L140.9 248.2 L139.9 248.4 L138.9 248.6 L137.9 248.8 L136.9 249.1 L135.9 249.3 L134.9 249.5 L133.9 249.8 L132.9 250.0 L131.9 250.3 L131.0 250.5 L130.0 250.8 L129.0 251.0 L128.0 251.3 L127.1 251.5 L126.1 251.8 L125.1 252.1 L124.1 252.3 L123.1 252.6 L122.2 252.9 L121.2 253.2 L120.2 253.5 L119.2 253.8 L118.2 254.1 L117.3 254.4 L116.3 254.8 L115.3 255.1 L114.3 255.5 L113.3 255.9 L112.4 256.3 L111.4 256.7 L110.4 257.1 L109.5 257.6 L108.5 258.0 L107.6 258.5 L106.7 259.0 L105.7 259.5 L104.8 260.0 L103.9 260.5 L103.0 261.1 L102.1 261.6 L101.3 262.2 L100.4 262.8 L99.5 263.4 L98.7 264.0 L97.8 264.6 L97.0 265.2 L96.2 265.9 L95.3 266.5 L94.5 267.2 L93.7 267.9 L92.9 268.6 L92.2 269.3 L91.4 270.1 L90.7 270.9 L89.9 271.6 L89.2 272.4 L88.5 273.3 L87.9 274.1 L87.2 274.9 L86.6 275.8 L86.0 276.7 L85.4 277.6 L84.8 278.5 L84.2 279.5 L83.7 280.4 L83.2 281.4 L82.8 282.4 L82.3 283.4 L81.9 284.4 L81.6 285.4 L81.2 286.5 L81.0 287.6 L80.7 288.7 L80.5 289.8 L80.4 291.0 L80.3 292.1 L80.3 293.3 L80.4 294.4 L80.6 295.6 L80.8 296.7 L81.1 297.9 L81.5 299.0 L81.9 300.0 L82.4 301.1 L82.9 302.1 L83.5 303.1 L84.2 304.0 L84.9 304.9 L85.6 305.8 L86.4 306.6 L87.2 307.4 L88.0 308.1 L88.9 308.9 L89.8 309.5 L90.7 310.2 L91.6 310.8 L92.5 311.4 L93.5 311.9 L94.4 312.4 L95.4 312.9 L96.4 313.4 L97.4 313.8 L98.4 314.2 L99.4 314.6 L100.4 315.0 L101.4 315.3 L102.4 315.6 L103.4 315.9 L104.4 316.2 L105.4 316.5 L106.4 316.8 L107.4 317.0 L108.4 317.2 L109.4 317.5 L110.4 317.7 L111.4 317.9 L112.4 318.1 L113.4 318.3 L114.4 318.5 L115.4 318.7 L116.4 318.9 L117.4 319.1 L118.4 319.2 L119.4 319.4 L120.4 319.6 L121.4 319.8 L122.4 319.9 L123.4 320.1 L124.4 320.3 L125.4 320.4 L126.4 320.6 L127.4 320.7 L128.4 320.9 L129.4 321.0 L130.4 321.2 L131.4 321.3 L132.5 321.4 L133.5 321.6 L134.5 321.7 L135.5 321.8 L136.6 321.9 L137.6 321.9 L138.7 322.0 L139.7 322.0 L140.8 322.1 L141.8 322.1 L142.8 322.1 L143.9 322.1 L144.9 322.1 L145.9 322.1 L146.9 322.1 L147.9 322.1 L148.9 322.1 L149.8 322.1 L150.8 322.1 L151.8 322.1 L152.8 322.2 L153.8 322.2 L154.7 322.2 L155.7 322.2 L156.7 322.3 L157.7 322.3 L158.8 322.3 L159.8 322.3 L160.8 322.4 L161.9 322.4 L162.9 322.3 L163.9 322.3 L165.0 322.3 L166.0 322.3 L167.1 322.2 L168.1 322.1 L169.1 322.1 L170.2 322.0 L171.2 321.9 L172.2 321.8 L173.2 321.7 L174.2 321.6 L175.2 321.5 L176.2 321.3 L177.2 321.2 L178.2 321.1 L179.2 321.0 L180.2 320.9 L181.2 320.8 L182.2 320.7 L183.2 320.6 L184.2 320.5 L185.2 320.4 L186.1 320.3 L187.1 320.2 L188.1 320.1 L189.1 320.0 L190.1 319.9 L191.1 319.8 L192.1 319.7 L193.1 319.6 L194.1 319.5 L195.1 319.4 L196.1 319.3 L197.1 319.2 L198.1 319.1 L199.1 319.0 L200.1 318.9 L201.1 318.8 L202.1 318.7 L203.1 318.6 L204.1 318.5 L205.1 318.4 L206.1 318.3 L207.1 318.2 L208.1 318.1 L209.1 317.9 L210.1 317.8 L211.1 317.7 L212.1 317.6 L213.1 317.5 L214.2 317.3 L215.2 317.2 L216.2 317.1 L217.2 316.9 L218.2 316.7 L219.3 316.6 L220.3 316.4 L221.3 316.2 L222.3 316.1 L223.3 315.9 L224.3 315.7 L225.3 315.5 L226.3 315.3 L227.3 315.1 L228.3 314.9 L229.2 314.7 L230.2 314.6 L231.2 314.4 L232.1 314.2 L233.1 314.0 L234.1 313.8 L235.1 313.6 L236.0 313.4 L237.0 313.2 L238.0 313.1 L238.9 312.9 L239.9 312.7 L240.9 312.5 L241.9 312.3 L242.9 312.1 L241.1 302.9 L240.1 303.1 L239.2 303.2 L238.2 303.4 L237.2 303.6 L236.2 303.8 L235.2 304.0 L234.2 304.2 L233.2 304.4 L232.2 304.6 L231.2 304.8 L230.3 305.0 L229.3 305.2 L228.3 305.5 L227.3 305.7 L226.3 305.9 L225.3 306.1 L224.4 306.4 L223.4 306.6 L222.4 306.8 L221.5 307.0 L220.5 307.3 L219.6 307.5 L218.6 307.7 L217.7 307.9 L216.7 308.1 L215.8 308.2 L214.8 308.4 L213.9 308.6 L212.9 308.7 L211.9 308.9 L211.0 309.0 L210.0 309.2 L209.0 309.3 L208.1 309.4 L207.1 309.6 L206.1 309.7 L205.1 309.8 L204.1 309.9 L203.1 310.0 L202.2 310.2 L201.2 310.3 L200.2 310.4 L199.2 310.5 L198.2 310.6 L197.2 310.7 L196.2 310.8 L195.2 310.9 L194.2 311.0 L193.2 311.2 L192.2 311.3 L191.2 311.4 L190.3 311.5 L189.3 311.6 L188.3 311.7 L187.3 311.8 L186.3 311.9 L185.3 312.0 L184.3 312.1 L183.3 312.3 L182.3 312.4 L181.3 312.5 L180.3 312.6 L179.3 312.7 L178.3 312.9 L177.3 313.0 L176.3 313.1 L175.3 313.2 L174.3 313.3 L173.3 313.4 L172.3 313.6 L171.4 313.7 L170.4 313.8 L169.4 313.9 L168.5 313.9 L167.5 314.0 L166.6 314.1 L165.6 314.1 L164.7 314.2 L163.7 314.2 L162.7 314.2 L161.8 314.3 L160.8 314.3 L159.9 314.3 L158.9 314.3 L157.9 314.3 L156.9 314.2 L155.9 314.2 L154.9 314.2 L153.9 314.2 L152.9 314.2 L151.9 314.2 L150.8 314.2 L149.8 314.2 L148.8 314.2 L147.8 314.2 L146.8 314.2 L145.8 314.2 L144.8 314.3 L143.8 314.3 L142.9 314.3 L141.9 314.3 L140.9 314.3 L140.0 314.3 L139.0 314.2 L138.1 314.2 L137.1 314.1 L136.2 314.1 L135.2 314.0 L134.3 313.9 L133.3 313.8 L132.3 313.7 L131.4 313.6 L130.4 313.5 L129.4 313.4 L128.5 313.2 L127.5 313.1 L126.5 313.0 L125.5 312.8 L124.5 312.7 L123.6 312.5 L122.6 312.4 L121.6 312.3 L120.6 312.1 L119.6 311.9 L118.7 311.8 L117.7 311.6 L116.7 311.5 L115.8 311.3 L114.8 311.1 L113.8 311.0 L112.9 310.8 L111.9 310.6 L110.9 310.4 L110.0 310.2 L109.1 310.0 L108.1 309.8 L107.2 309.5 L106.3 309.3 L105.3 309.1 L104.4 308.8 L103.5 308.5 L102.7 308.3 L101.8 308.0 L100.9 307.6 L100.1 307.3 L99.2 307.0 L98.4 306.6 L97.6 306.2 L96.8 305.8 L96.0 305.4 L95.3 304.9 L94.5 304.5 L93.8 304.0 L93.2 303.5 L92.5 302.9 L91.9 302.4 L91.3 301.8 L90.7 301.2 L90.2 300.6 L89.7 300.0 L89.2 299.3 L88.8 298.7 L88.5 298.0 L88.1 297.3 L87.8 296.6 L87.6 295.9 L87.4 295.2 L87.3 294.5 L87.2 293.8 L87.1 293.0 L87.1 292.3 L87.2 291.5 L87.2 290.7 L87.4 289.9 L87.5 289.1 L87.7 288.3 L88.0 287.5 L88.2 286.7 L88.5 285.9 L88.9 285.1 L89.2 284.3 L89.6 283.5 L90.1 282.7 L90.5 281.9 L91.0 281.1 L91.4 280.4 L91.9 279.6 L92.5 278.9 L93.0 278.2 L93.6 277.4 L94.2 276.7 L94.8 276.1 L95.4 275.4 L96.1 274.7 L96.7 274.1 L97.4 273.5 L98.1 272.8 L98.8 272.2 L99.5 271.6 L100.3 271.0 L101.0 270.5 L101.8 269.9 L102.5 269.4 L103.3 268.8 L104.1 268.3 L104.9 267.8 L105.7 267.3 L106.5 266.8 L107.3 266.3 L108.1 265.8 L109.0 265.4 L109.8 264.9 L110.6 264.5 L111.5 264.1 L112.3 263.7 L113.2 263.3 L114.1 263.0 L114.9 262.6 L115.8 262.3 L116.7 261.9 L117.6 261.6 L118.5 261.3 L119.4 261.0 L120.3 260.7 L121.3 260.4 L122.2 260.1 L123.1 259.9 L124.1 259.6 L125.0 259.3 L126.0 259.1 L126.9 258.8 L127.9 258.6 L128.8 258.3 L129.8 258.1 L130.7 257.9 L131.7 257.6 L132.7 257.4 L133.6 257.2 L134.6 256.9 L135.6 256.7 L136.5 256.5 L137.5 256.3 L138.4 256.1 L139.4 255.9 L140.3 255.7 L141.3 255.5 L142.2 255.4 L143.2 255.2 L144.1 255.1 L145.1 254.9 L146.0 254.8 L147.0 254.7 L147.9 254.6 L148.9 254.5 L149.8 254.4 L150.8 254.3 L151.7 254.2 L152.7 254.2 L153.7 254.1 L154.6 254.1 L155.6 254.0 L156.6 254.0 L157.5 254.0 L158.5 254.0 L159.5 254.0 L160.5 254.0 L161.4 254.0 L162.4 254.0 L163.4 254.0 L164.4 254.0 L165.4 254.0 L166.3 254.1 L167.3 254.1 L168.3 254.2 L169.3 254.2 L170.3 254.3 L171.2 254.3 L172.2 254.4 L173.2 254.5 L174.1 254.6 L175.1 254.7 L176.1 254.8 L177.0 254.9 L178.0 255.0 L178.9 255.1 L179.9 255.3 L180.8 255.4 L181.8 255.6 L182.8 255.7 L183.7 255.9 L184.7 256.0 L185.6 256.2 L186.6 256.4 L187.6 256.6 L188.5 256.8 L189.5 257.0 L190.5 257.1 L191.4 257.3 L192.4 257.6 L193.3 257.8 L194.3 258.0 L195.2 258.2 L196.2 258.4 L197.1 258.6 L198.1 258.9 L199.0 259.1 L200.0 259.4 L200.9 259.6 L201.8 259.9 L202.8 260.2 L203.7 260.4 L204.6 260.7 L205.6 261.0 L206.5 261.3 L207.4 261.6 L208.3 261.9 L209.2 262.2 L210.2 262.5 L211.1 262.9 L212.0 263.2 L212.9 263.5 L213.8 263.9 L214.7 264.2 L215.7 264.6 L216.6 265.0 L217.5 265.3 L218.4 265.7 L219.3 266.1 L220.2 266.4 L221.1 266.8 L222.0 267.2 L223.0 267.6 L223.9 268.0 L224.8 268.4 L225.7 268.8 L226.6 269.1 L227.5 269.5 L228.4 269.9 L229.3 270.3 L230.2 270.7 L231.1 271.1 L232.0 271.5 L232.8 272.0 L233.7 272.4 L234.6 272.8 L235.5 273.2 L236.4 273.6 L237.3 274.1 L238.2 274.5 L239.0 274.9 L239.9 275.4 L240.8 275.8 L241.7 276.3 L242.6 276.7 L243.5 277.2 L244.4 277.6 L245.3 278.1 L246.2 278.5 L247.1 278.9 L248.0 279.4 L248.9 279.8 L249.8 280.3 L250.7 280.7 L251.6 281.2 L252.5 281.6 L253.4 282.1 L254.3 282.5 L255.2 282.9 L256.1 283.4Z" fill="#c7edfc"/>
<circle cx="258.0" cy="279.5" r="4.3" fill="#c7edfc"/>
<circle cx="242.0" cy="307.5" r="4.7" fill="#c7edfc"/>
<path d="M268.4 265.3 L267.7 264.7 L266.9 264.0 L266.1 263.4 L265.3 262.8 L264.5 262.2 L263.7 261.6 L262.9 261.0 L262.1 260.4 L261.3 259.7 L260.5 259.1 L259.7 258.5 L258.9 257.9 L258.1 257.3 L257.2 256.7 L256.4 256.1 L255.6 255.5 L254.9 254.9 L254.1 254.3 L253.3 253.7 L252.6 253.1 L251.8 252.5 L251.1 251.9 L250.4 251.3 L249.7 250.8 L249.0 250.2 L248.3 249.6 L247.6 249.0 L247.0 248.4 L246.4 247.8 L245.7 247.1 L245.1 246.5 L244.5 245.8 L243.9 245.2 L243.2 244.5 L242.6 243.8 L242.0 243.1 L241.4 242.4 L240.8 241.7 L240.2 241.0 L239.6 240.2 L239.0 239.5 L238.4 238.7 L237.8 237.9 L237.2 237.2 L236.6 236.4 L236.0 235.6 L235.4 234.8 L234.7 234.0 L234.1 233.3 L233.5 232.5 L232.9 231.7 L232.3 230.9 L231.7 230.1 L231.1 229.3 L230.5 228.5 L229.9 227.7 L229.3 227.0 L228.7 226.2 L228.2 225.4 L227.6 224.7 L227.1 223.9 L226.6 223.1 L226.1 222.4 L225.6 221.6 L225.2 220.9 L224.7 220.1 L224.3 219.3 L223.9 218.6 L223.5 217.8 L223.1 217.0 L222.8 216.2 L222.4 215.4 L222.0 214.6 L221.7 213.7 L221.3 212.9 L221.0 212.0 L220.7 211.1 L220.3 210.2 L220.0 209.3 L219.6 208.4 L219.3 207.5 L219.0 206.6 L218.6 205.7 L218.3 204.7 L217.9 203.8 L217.6 202.9 L217.3 202.0 L216.9 201.1 L216.6 200.1 L216.3 199.2 L215.9 198.3 L215.6 197.4 L215.3 196.5 L214.9 195.5 L214.6 194.6 L214.3 193.7 L213.9 192.8 L213.6 191.8 L213.3 190.9 L212.9 190.0 L212.6 189.1 L212.3 188.2 L212.0 187.3 L211.7 186.5 L211.4 185.6 L211.1 184.7 L210.9 183.8 L210.6 183.0 L210.3 182.1 L210.1 181.3 L209.9 180.4 L209.6 179.6 L209.4 178.7 L209.2 177.9 L209.0 177.0 L208.8 176.1 L208.7 175.3 L208.5 174.4 L208.3 173.5 L208.2 172.6 L208.1 171.8 L207.9 170.9 L207.8 170.0 L207.7 169.1 L207.6 168.2 L207.5 167.3 L207.4 166.3 L207.3 165.4 L207.2 164.5 L207.1 163.6 L207.1 162.7 L207.0 161.8 L207.0 160.9 L206.9 159.9 L206.9 159.0 L206.9 158.1 L206.9 157.2 L206.9 156.3 L206.9 155.4 L206.9 154.5 L206.9 153.5 L207.0 152.6 L207.0 151.7 L207.0 150.8 L207.1 149.8 L207.2 148.9 L207.2 147.9 L207.3 147.0 L207.4 146.1 L207.5 145.1 L207.6 144.2 L207.7 143.3 L207.8 142.4 L207.9 141.4 L208.0 140.5 L208.1 139.6 L208.2 138.8 L208.3 137.9 L208.5 137.0 L208.6 136.2 L208.8 135.3 L209.0 134.5 L209.1 133.6 L209.3 132.7 L209.5 131.9 L209.7 131.0 L209.9 130.1 L210.2 129.2 L210.4 128.3 L210.6 127.4 L210.9 126.5 L211.1 125.5 L211.4 124.6 L211.7 123.7 L211.9 122.8 L212.2 121.9 L212.5 120.9 L212.8 120.0 L213.1 119.1 L213.3 118.2 L213.6 117.3 L213.9 116.4 L214.2 115.5 L214.6 114.7 L214.9 113.8 L215.2 112.9 L215.5 112.1 L215.9 111.3 L216.2 110.4 L216.5 109.6 L216.9 108.9 L217.3 108.1 L217.7 107.3 L218.1 106.5 L218.5 105.8 L218.9 105.1 L219.3 104.4 L219.7 103.7 L220.2 103.0 L220.7 102.3 L221.1 101.7 L221.6 101.0 L222.1 100.4 L222.6 99.9 L223.1 99.3 L223.6 98.7 L224.2 98.2 L224.7 97.7 L225.3 97.2 L225.9 96.7 L226.5 96.2 L227.2 95.7 L227.8 95.3 L228.4 94.9 L229.1 94.5 L229.8 94.1 L230.5 93.7 L231.2 93.4 L231.9 93.0 L232.6 92.7 L233.3 92.4 L234.0 92.2 L234.8 91.9 L235.5 91.7 L236.3 91.5 L237.1 91.3 L237.8 91.1 L238.6 91.0 L239.4 90.9 L240.2 90.8 L240.9 90.7 L241.7 90.6 L242.5 90.6 L243.3 90.6 L244.1 90.6 L244.9 90.6 L245.6 90.7 L246.4 90.7 L247.2 90.8 L248.0 90.9 L248.7 91.1 L249.5 91.2 L250.3 91.4 L251.0 91.6 L251.8 91.8 L252.5 92.0 L253.2 92.3 L253.9 92.6 L254.7 92.9 L255.4 93.2 L256.1 93.5 L256.7 93.9 L257.4 94.3 L258.1 94.7 L258.7 95.1 L259.4 95.5 L260.0 96.0 L260.6 96.4 L261.2 96.9 L261.8 97.4 L262.4 98.0 L262.9 98.5 L263.5 99.1 L264.0 99.6 L264.5 100.2 L265.0 100.8 L265.5 101.5 L266.0 102.1 L266.4 102.7 L266.9 103.4 L267.3 104.1 L267.7 104.8 L268.1 105.5 L268.5 106.2 L268.9 106.9 L269.2 107.7 L269.6 108.4 L269.9 109.2 L270.2 109.9 L270.5 110.7 L270.8 111.5 L271.1 112.3 L271.4 113.1 L271.7 114.0 L271.9 114.8 L272.2 115.7 L272.5 116.6 L272.7 117.5 L273.0 118.4 L273.2 119.2 L273.4 120.2 L273.6 121.1 L273.9 122.0 L274.1 122.9 L274.3 123.8 L274.5 124.8 L274.7 125.7 L274.9 126.7 L275.1 127.6 L275.3 128.6 L275.5 129.6 L275.7 130.5 L275.9 131.5 L276.1 132.4 L276.3 133.4 L276.5 134.3 L276.6 135.3 L276.8 136.3 L277.0 137.2 L277.2 138.1 L277.3 139.1 L277.5 140.0 L277.6 141.0 L277.8 141.9 L278.0 142.9 L278.1 143.8 L278.3 144.8 L278.4 145.7 L278.6 146.7 L278.7 147.6 L278.8 148.6 L279.0 149.5 L279.1 150.5 L279.2 151.4 L279.4 152.4 L279.5 153.3 L279.6 154.3 L279.7 155.2 L279.8 156.2 L279.9 157.2 L280.1 158.1 L280.2 159.1 L280.3 160.0 L280.4 161.0 L280.5 162.0 L280.5 162.9 L280.6 163.9 L280.7 164.8 L280.8 165.8 L280.9 166.8 L280.9 167.7 L281.0 168.7 L281.1 169.6 L281.1 170.6 L281.2 171.6 L281.2 172.5 L281.2 173.5 L281.3 174.5 L281.3 175.4 L281.3 176.4 L281.4 177.4 L281.4 178.4 L281.4 179.4 L281.5 180.3 L281.5 181.3 L281.5 182.3 L281.5 183.3 L281.5 184.3 L281.6 185.3 L281.6 186.3 L281.6 187.3 L281.6 188.3 L281.7 189.3 L281.7 190.3 L281.7 191.3 L281.8 192.3 L281.8 193.4 L281.8 194.4 L281.9 195.5 L281.9 196.5 L282.0 197.5 L282.0 198.6 L282.1 199.6 L282.2 200.6 L282.2 201.7 L282.3 202.7 L282.4 203.7 L282.5 204.7 L282.5 205.7 L301.5 204.3 L301.4 203.3 L301.3 202.3 L301.3 201.3 L301.2 200.4 L301.1 199.4 L301.1 198.4 L301.0 197.5 L301.0 196.5 L300.9 195.5 L300.9 194.6 L300.8 193.6 L300.8 192.7 L300.8 191.7 L300.7 190.7 L300.7 189.7 L300.7 188.8 L300.6 187.8 L300.6 186.8 L300.6 185.8 L300.6 184.8 L300.5 183.8 L300.5 182.8 L300.5 181.7 L300.4 180.7 L300.4 179.7 L300.3 178.7 L300.3 177.7 L300.2 176.7 L300.2 175.6 L300.1 174.6 L300.1 173.6 L300.0 172.6 L300.0 171.5 L299.9 170.5 L299.8 169.5 L299.8 168.4 L299.7 167.4 L299.6 166.4 L299.5 165.3 L299.4 164.3 L299.3 163.3 L299.3 162.2 L299.2 161.2 L299.1 160.2 L299.0 159.1 L298.9 158.1 L298.7 157.1 L298.6 156.0 L298.5 155.0 L298.4 154.0 L298.3 153.0 L298.1 151.9 L298.0 150.9 L297.9 149.9 L297.7 148.9 L297.6 147.8 L297.4 146.8 L297.3 145.8 L297.1 144.8 L296.9 143.7 L296.7 142.7 L296.6 141.7 L296.4 140.7 L296.2 139.6 L296.0 138.6 L295.8 137.6 L295.6 136.6 L295.4 135.5 L295.1 134.5 L294.9 133.5 L294.7 132.5 L294.4 131.5 L294.2 130.5 L293.9 129.5 L293.7 128.5 L293.4 127.5 L293.2 126.5 L292.9 125.5 L292.7 124.5 L292.4 123.6 L292.2 122.6 L291.9 121.6 L291.6 120.6 L291.4 119.6 L291.1 118.6 L290.8 117.6 L290.5 116.5 L290.2 115.5 L289.9 114.5 L289.6 113.5 L289.3 112.5 L288.9 111.4 L288.6 110.4 L288.2 109.4 L287.8 108.3 L287.4 107.3 L287.0 106.3 L286.6 105.2 L286.1 104.2 L285.7 103.1 L285.2 102.1 L284.6 101.0 L284.1 100.0 L283.5 99.0 L282.9 98.0 L282.3 97.0 L281.6 96.0 L281.0 95.0 L280.3 94.0 L279.6 93.1 L278.8 92.2 L278.1 91.2 L277.3 90.3 L276.5 89.5 L275.6 88.6 L274.8 87.7 L273.9 86.9 L273.0 86.1 L272.1 85.3 L271.1 84.6 L270.2 83.9 L269.2 83.2 L268.2 82.5 L267.2 81.8 L266.2 81.2 L265.1 80.6 L264.0 80.0 L263.0 79.5 L261.9 79.0 L260.8 78.5 L259.6 78.0 L258.5 77.6 L257.3 77.2 L256.2 76.9 L255.0 76.6 L253.9 76.3 L252.7 76.0 L251.5 75.8 L250.3 75.6 L249.1 75.4 L247.9 75.3 L246.7 75.2 L245.5 75.1 L244.3 75.1 L243.1 75.1 L241.9 75.1 L240.7 75.2 L239.6 75.3 L238.4 75.4 L237.2 75.6 L236.0 75.7 L234.8 76.0 L233.6 76.2 L232.5 76.5 L231.3 76.8 L230.2 77.1 L229.0 77.5 L227.9 77.9 L226.8 78.3 L225.7 78.8 L224.6 79.3 L223.5 79.8 L222.4 80.3 L221.4 80.9 L220.3 81.5 L219.3 82.1 L218.3 82.8 L217.3 83.5 L216.3 84.2 L215.3 84.9 L214.4 85.7 L213.5 86.5 L212.6 87.3 L211.7 88.2 L210.9 89.0 L210.0 89.9 L209.3 90.8 L208.5 91.7 L207.7 92.7 L207.0 93.6 L206.4 94.6 L205.7 95.5 L205.1 96.5 L204.4 97.5 L203.8 98.5 L203.3 99.4 L202.7 100.4 L202.2 101.4 L201.7 102.4 L201.1 103.4 L200.7 104.4 L200.2 105.4 L199.7 106.4 L199.3 107.4 L198.8 108.4 L198.4 109.3 L198.0 110.3 L197.6 111.3 L197.2 112.3 L196.8 113.2 L196.4 114.2 L196.0 115.2 L195.6 116.2 L195.3 117.1 L194.9 118.1 L194.5 119.1 L194.2 120.1 L193.8 121.1 L193.5 122.1 L193.1 123.1 L192.8 124.1 L192.5 125.1 L192.1 126.1 L191.8 127.2 L191.5 128.2 L191.2 129.3 L190.9 130.4 L190.7 131.5 L190.4 132.6 L190.2 133.7 L190.0 134.8 L189.8 135.9 L189.6 136.9 L189.5 138.0 L189.3 139.1 L189.2 140.2 L189.1 141.2 L188.9 142.3 L188.8 143.4 L188.7 144.4 L188.7 145.5 L188.6 146.5 L188.5 147.6 L188.4 148.6 L188.4 149.7 L188.3 150.8 L188.3 151.8 L188.2 152.9 L188.2 154.0 L188.2 155.1 L188.2 156.2 L188.1 157.2 L188.2 158.3 L188.2 159.4 L188.2 160.5 L188.2 161.6 L188.3 162.7 L188.3 163.7 L188.4 164.8 L188.4 165.9 L188.5 167.0 L188.6 168.1 L188.7 169.1 L188.8 170.2 L188.9 171.3 L189.0 172.4 L189.2 173.5 L189.3 174.5 L189.5 175.6 L189.7 176.7 L189.9 177.8 L190.1 178.9 L190.3 180.0 L190.5 181.1 L190.7 182.2 L191.0 183.3 L191.3 184.3 L191.6 185.4 L191.9 186.5 L192.2 187.5 L192.5 188.6 L192.9 189.7 L193.2 190.7 L193.6 191.7 L193.9 192.7 L194.3 193.7 L194.7 194.7 L195.1 195.7 L195.5 196.7 L195.9 197.6 L196.2 198.6 L196.6 199.5 L197.0 200.5 L197.4 201.4 L197.8 202.3 L198.2 203.3 L198.6 204.2 L199.1 205.1 L199.5 206.1 L199.9 207.0 L200.3 207.9 L200.8 208.8 L201.2 209.8 L201.6 210.7 L202.1 211.6 L202.5 212.5 L203.0 213.5 L203.4 214.4 L203.9 215.3 L204.4 216.2 L204.8 217.2 L205.3 218.1 L205.8 219.0 L206.3 220.0 L206.8 220.9 L207.4 221.8 L207.9 222.8 L208.5 223.8 L209.0 224.7 L209.6 225.7 L210.2 226.6 L210.8 227.6 L211.5 228.5 L212.1 229.4 L212.8 230.3 L213.4 231.2 L214.1 232.1 L214.7 232.9 L215.4 233.8 L216.0 234.6 L216.7 235.4 L217.3 236.2 L218.0 237.0 L218.6 237.8 L219.3 238.6 L219.9 239.4 L220.5 240.2 L221.1 241.0 L221.8 241.7 L222.4 242.5 L223.0 243.3 L223.7 244.1 L224.3 244.9 L224.9 245.7 L225.6 246.4 L226.2 247.2 L226.8 248.0 L227.5 248.8 L228.2 249.6 L228.8 250.4 L229.5 251.2 L230.2 252.0 L230.9 252.8 L231.6 253.6 L232.3 254.4 L233.1 255.2 L233.8 256.0 L234.6 256.8 L235.4 257.6 L236.2 258.3 L237.0 259.1 L237.8 259.8 L238.6 260.6 L239.5 261.3 L240.3 262.0 L241.1 262.7 L242.0 263.3 L242.8 264.0 L243.6 264.6 L244.5 265.3 L245.3 265.9 L246.1 266.5 L246.9 267.1 L247.7 267.7 L248.5 268.3 L249.3 268.9 L250.1 269.5 L250.9 270.1 L251.7 270.7 L252.5 271.3 L253.3 271.9 L254.0 272.5 L254.8 273.1 L255.6 273.7 L256.4 274.3 L257.2 274.9 L258.0 275.5 L258.8 276.1 L259.6 276.7Z" fill="#68b5f8"/>
<circle cx="264.0" cy="271.0" r="7.3" fill="#68b5f8"/>
<circle cx="292.0" cy="205.0" r="9.5" fill="#68b5f8"/>
<path d="M266.1 268.3 L265.3 267.7 L264.5 267.1 L263.7 266.5 L262.9 265.9 L262.1 265.2 L261.3 264.6 L260.5 264.0 L259.7 263.4 L258.9 262.8 L258.1 262.2 L257.3 261.6 L256.5 261.0 L255.7 260.4 L254.9 259.7 L254.1 259.1 L253.3 258.5 L252.5 257.9 L251.8 257.4 L251.0 256.8 L250.2 256.2 L249.4 255.6 L248.7 255.0 L247.9 254.3 L247.2 253.7 L246.5 253.1 L245.7 252.5 L245.0 251.9 L244.3 251.2 L243.7 250.6 L243.0 249.9 L242.3 249.2 L241.7 248.5 L241.0 247.8 L240.4 247.1 L239.7 246.4 L239.1 245.7 L238.4 245.0 L237.8 244.2 L237.2 243.5 L236.6 242.7 L236.0 241.9 L235.3 241.2 L234.7 240.4 L234.1 239.6 L233.5 238.9 L232.9 238.1 L232.3 237.3 L231.6 236.5 L231.0 235.7 L230.4 234.9 L229.8 234.1 L229.2 233.4 L228.6 232.6 L227.9 231.8 L227.3 231.0 L226.7 230.2 L226.1 229.4 L225.5 228.6 L225.0 227.9 L224.4 227.1 L223.8 226.3 L223.3 225.5 L222.7 224.7 L222.2 223.9 L221.7 223.1 L221.2 222.3 L220.7 221.5 L220.3 220.7 L219.8 219.9 L219.4 219.1 L219.0 218.2 L218.6 217.4 L218.2 216.5 L217.8 215.6 L217.4 214.7 L217.0 213.8 L216.6 212.9 L216.2 212.0 L215.8 211.1 L215.5 210.2 L215.1 209.3 L214.7 208.4 L214.4 207.5 L214.0 206.6 L213.6 205.6 L213.3 204.7 L212.9 203.8 L212.5 202.9 L212.2 202.0 L211.8 201.0 L211.5 200.1 L211.1 199.2 L210.8 198.3 L210.4 197.3 L210.1 196.4 L209.7 195.5 L209.3 194.5 L209.0 193.6 L208.7 192.7 L208.3 191.8 L208.0 190.9 L207.6 189.9 L207.3 189.0 L207.0 188.1 L206.7 187.2 L206.4 186.3 L206.1 185.4 L205.8 184.5 L205.5 183.6 L205.3 182.7 L205.0 181.8 L204.8 180.8 L204.5 179.9 L204.3 179.0 L204.1 178.1 L203.9 177.2 L203.7 176.2 L203.6 175.3 L203.4 174.4 L203.2 173.4 L203.1 172.5 L203.0 171.6 L202.8 170.6 L202.7 169.7 L202.6 168.7 L202.5 167.8 L202.4 166.8 L202.3 165.8 L202.2 164.9 L202.1 163.9 L202.1 163.0 L202.0 162.0 L202.0 161.0 L202.0 160.1 L201.9 159.1 L201.9 158.2 L201.9 157.2 L201.9 156.3 L201.9 155.3 L201.9 154.3 L202.0 153.4 L202.0 152.4 L202.0 151.4 L202.1 150.5 L202.1 149.5 L202.2 148.5 L202.3 147.6 L202.4 146.6 L202.4 145.6 L202.5 144.7 L202.6 143.7 L202.7 142.7 L202.8 141.8 L202.9 140.8 L203.1 139.9 L203.2 138.9 L203.3 138.0 L203.5 137.1 L203.6 136.1 L203.8 135.2 L204.0 134.3 L204.2 133.4 L204.4 132.5 L204.6 131.5 L204.8 130.6 L205.1 129.7 L205.3 128.8 L205.6 127.8 L205.8 126.9 L206.1 126.0 L206.4 125.0 L206.7 124.1 L206.9 123.2 L207.2 122.2 L207.5 121.3 L207.8 120.4 L208.1 119.4 L208.4 118.5 L208.7 117.6 L209.1 116.6 L209.4 115.7 L209.7 114.8 L210.1 113.9 L210.4 113.0 L210.7 112.1 L211.1 111.2 L211.5 110.3 L211.8 109.4 L212.2 108.6 L212.6 107.7 L213.0 106.9 L213.4 106.0 L213.9 105.2 L214.3 104.4 L214.7 103.6 L215.2 102.8 L215.7 102.0 L216.2 101.2 L216.7 100.5 L217.2 99.8 L217.8 99.0 L218.3 98.3 L218.9 97.7 L219.5 97.0 L220.1 96.3 L220.7 95.7 L221.3 95.1 L222.0 94.5 L222.7 93.9 L223.4 93.4 L224.1 92.8 L224.8 92.3 L225.5 91.8 L226.3 91.3 L227.1 90.9 L227.8 90.4 L228.6 90.0 L229.4 89.6 L230.2 89.3 L231.0 88.9 L231.9 88.6 L232.7 88.3 L233.6 88.0 L234.4 87.8 L235.3 87.5 L236.2 87.3 L237.0 87.1 L237.9 87.0 L238.8 86.8 L239.7 86.7 L240.6 86.6 L241.5 86.5 L242.4 86.5 L243.3 86.5 L244.1 86.5 L245.0 86.5 L245.9 86.6 L246.8 86.6 L247.7 86.7 L248.6 86.9 L249.5 87.0 L250.3 87.2 L251.2 87.4 L252.1 87.6 L252.9 87.9 L253.8 88.1 L254.6 88.4 L255.5 88.7 L256.3 89.1 L257.1 89.4 L257.9 89.8 L258.7 90.2 L259.4 90.6 L260.2 91.1 L261.0 91.6 L261.7 92.1 L262.4 92.6 L263.2 93.1 L263.8 93.7 L264.5 94.2 L265.2 94.8 L265.8 95.4 L266.5 96.1 L267.1 96.7 L267.7 97.4 L268.3 98.1 L268.8 98.7 L269.4 99.5 L269.9 100.2 L270.4 100.9 L270.9 101.7 L271.4 102.4 L271.9 103.2 L272.3 104.0 L272.8 104.8 L273.2 105.6 L273.6 106.4 L274.0 107.3 L274.3 108.1 L274.7 109.0 L275.0 109.8 L275.3 110.7 L275.7 111.6 L276.0 112.5 L276.3 113.4 L276.5 114.3 L276.8 115.2 L277.1 116.1 L277.4 117.1 L277.6 118.0 L277.9 118.9 L278.1 119.9 L278.4 120.8 L278.6 121.8 L278.8 122.7 L279.0 123.7 L279.3 124.6 L279.5 125.6 L279.7 126.6 L279.9 127.5 L280.1 128.5 L280.3 129.5 L280.5 130.4 L280.7 131.4 L281.0 132.4 L281.2 133.3 L281.3 134.3 L281.5 135.3 L281.7 136.2 L281.9 137.2 L282.1 138.2 L282.3 139.1 L282.5 140.1 L282.6 141.0 L282.8 142.0 L283.0 143.0 L283.1 143.9 L283.3 144.9 L283.4 145.9 L283.6 146.9 L283.7 147.8 L283.9 148.8 L284.0 149.8 L284.1 150.7 L284.3 151.7 L284.4 152.7 L284.5 153.7 L284.6 154.6 L284.8 155.6 L284.9 156.6 L285.0 157.6 L285.1 158.6 L285.2 159.5 L285.3 160.5 L285.4 161.5 L285.5 162.5 L285.6 163.4 L285.6 164.4 L285.7 165.4 L285.8 166.4 L285.9 167.4 L285.9 168.3 L286.0 169.3 L286.1 170.3 L286.1 171.3 L286.2 172.3 L286.2 173.3 L286.3 174.2 L286.3 175.2 L286.3 176.2 L286.4 177.2 L286.4 178.2 L286.4 179.2 L286.5 180.2 L286.5 181.2 L286.5 182.2 L286.5 183.1 L286.6 184.1 L286.6 185.1 L286.6 186.1 L286.6 187.1 L286.7 188.1 L286.7 189.1 L286.7 190.2 L286.8 191.2 L286.8 192.2 L286.8 193.2 L286.9 194.2 L286.9 195.2 L287.0 196.2 L287.0 197.3 L287.1 198.3 L287.1 199.3 L287.2 200.3 L287.3 201.3 L287.3 202.3 L287.4 203.3 L287.5 204.3 L287.5 205.3 L296.5 204.7 L296.4 203.7 L296.3 202.7 L296.2 201.7 L296.2 200.7 L296.1 199.7 L296.0 198.7 L296.0 197.8 L295.9 196.8 L295.9 195.8 L295.8 194.8 L295.8 193.8 L295.8 192.9 L295.7 191.9 L295.7 190.9 L295.7 189.9 L295.6 188.9 L295.6 187.9 L295.6 186.9 L295.5 185.9 L295.5 184.9 L295.5 183.9 L295.5 182.9 L295.4 181.9 L295.4 180.9 L295.4 179.9 L295.3 178.9 L295.3 177.9 L295.2 176.9 L295.2 175.8 L295.2 174.8 L295.1 173.8 L295.0 172.8 L295.0 171.8 L294.9 170.8 L294.9 169.8 L294.8 168.8 L294.7 167.7 L294.7 166.7 L294.6 165.7 L294.5 164.7 L294.4 163.7 L294.3 162.7 L294.2 161.7 L294.1 160.6 L294.0 159.6 L293.9 158.6 L293.8 157.6 L293.7 156.6 L293.6 155.6 L293.5 154.6 L293.3 153.6 L293.2 152.6 L293.1 151.6 L293.0 150.5 L292.8 149.5 L292.7 148.5 L292.5 147.5 L292.4 146.5 L292.2 145.5 L292.1 144.5 L291.9 143.5 L291.7 142.5 L291.5 141.5 L291.4 140.5 L291.2 139.5 L291.0 138.5 L290.8 137.5 L290.6 136.5 L290.4 135.5 L290.2 134.5 L289.9 133.5 L289.7 132.5 L289.5 131.5 L289.3 130.5 L289.0 129.5 L288.8 128.6 L288.6 127.6 L288.3 126.6 L288.1 125.6 L287.8 124.6 L287.6 123.7 L287.4 122.7 L287.1 121.7 L286.8 120.7 L286.6 119.7 L286.3 118.7 L286.0 117.7 L285.8 116.8 L285.5 115.8 L285.2 114.8 L284.9 113.8 L284.6 112.8 L284.2 111.8 L283.9 110.8 L283.6 109.8 L283.2 108.8 L282.8 107.9 L282.4 106.9 L282.0 105.9 L281.6 104.9 L281.1 103.9 L280.6 103.0 L280.1 102.0 L279.6 101.1 L279.1 100.1 L278.5 99.2 L278.0 98.3 L277.4 97.4 L276.7 96.5 L276.1 95.6 L275.4 94.8 L274.7 93.9 L274.0 93.1 L273.3 92.3 L272.6 91.5 L271.8 90.7 L271.0 90.0 L270.2 89.3 L269.4 88.5 L268.5 87.9 L267.6 87.2 L266.8 86.5 L265.9 85.9 L264.9 85.3 L264.0 84.8 L263.1 84.2 L262.1 83.7 L261.1 83.2 L260.1 82.7 L259.1 82.3 L258.1 81.9 L257.1 81.5 L256.1 81.2 L255.0 80.8 L254.0 80.5 L252.9 80.3 L251.8 80.0 L250.8 79.8 L249.7 79.7 L248.6 79.5 L247.5 79.4 L246.5 79.3 L245.4 79.2 L244.3 79.2 L243.2 79.2 L242.1 79.2 L241.0 79.3 L239.9 79.4 L238.8 79.5 L237.8 79.6 L236.7 79.8 L235.6 80.0 L234.6 80.2 L233.5 80.5 L232.4 80.7 L231.4 81.1 L230.4 81.4 L229.3 81.8 L228.3 82.1 L227.3 82.6 L226.3 83.0 L225.3 83.5 L224.4 84.0 L223.4 84.5 L222.5 85.1 L221.5 85.6 L220.6 86.2 L219.7 86.9 L218.8 87.5 L218.0 88.2 L217.1 88.9 L216.3 89.6 L215.5 90.3 L214.7 91.1 L214.0 91.9 L213.2 92.7 L212.5 93.5 L211.8 94.4 L211.2 95.2 L210.5 96.1 L209.9 97.0 L209.3 97.9 L208.7 98.8 L208.2 99.7 L207.6 100.6 L207.1 101.5 L206.6 102.4 L206.1 103.4 L205.6 104.3 L205.1 105.3 L204.7 106.2 L204.2 107.2 L203.8 108.1 L203.4 109.1 L203.0 110.0 L202.6 111.0 L202.2 111.9 L201.8 112.9 L201.5 113.8 L201.1 114.8 L200.7 115.8 L200.4 116.7 L200.0 117.7 L199.7 118.6 L199.3 119.6 L199.0 120.6 L198.7 121.5 L198.4 122.5 L198.0 123.5 L197.7 124.4 L197.4 125.4 L197.1 126.4 L196.8 127.4 L196.5 128.4 L196.2 129.4 L196.0 130.4 L195.7 131.5 L195.5 132.5 L195.3 133.5 L195.0 134.6 L194.9 135.6 L194.7 136.6 L194.5 137.7 L194.4 138.7 L194.2 139.7 L194.1 140.8 L194.0 141.8 L193.9 142.8 L193.8 143.8 L193.7 144.9 L193.6 145.9 L193.5 146.9 L193.4 147.9 L193.4 149.0 L193.3 150.0 L193.3 151.0 L193.2 152.1 L193.2 153.1 L193.1 154.1 L193.1 155.2 L193.1 156.2 L193.1 157.2 L193.1 158.3 L193.1 159.3 L193.2 160.4 L193.2 161.4 L193.2 162.4 L193.3 163.5 L193.3 164.5 L193.4 165.5 L193.5 166.6 L193.6 167.6 L193.7 168.6 L193.8 169.7 L193.9 170.7 L194.0 171.7 L194.1 172.8 L194.3 173.8 L194.4 174.8 L194.6 175.9 L194.8 176.9 L195.0 177.9 L195.2 179.0 L195.4 180.0 L195.6 181.0 L195.9 182.1 L196.2 183.1 L196.4 184.1 L196.7 185.1 L197.0 186.1 L197.3 187.1 L197.6 188.1 L198.0 189.1 L198.3 190.1 L198.7 191.1 L199.0 192.0 L199.4 193.0 L199.7 194.0 L200.1 194.9 L200.5 195.8 L200.8 196.8 L201.2 197.7 L201.6 198.7 L202.0 199.6 L202.4 200.5 L202.8 201.5 L203.1 202.4 L203.5 203.3 L203.9 204.2 L204.3 205.2 L204.7 206.1 L205.1 207.0 L205.5 208.0 L206.0 208.9 L206.4 209.8 L206.8 210.7 L207.2 211.6 L207.6 212.6 L208.1 213.5 L208.5 214.4 L208.9 215.3 L209.4 216.2 L209.8 217.2 L210.3 218.1 L210.8 219.0 L211.2 219.9 L211.7 220.8 L212.2 221.8 L212.8 222.7 L213.3 223.6 L213.8 224.5 L214.4 225.4 L215.0 226.3 L215.6 227.1 L216.2 228.0 L216.8 228.9 L217.4 229.7 L218.0 230.5 L218.6 231.4 L219.3 232.2 L219.9 233.0 L220.5 233.8 L221.1 234.6 L221.8 235.4 L222.4 236.2 L223.0 236.9 L223.6 237.7 L224.3 238.5 L224.9 239.3 L225.5 240.1 L226.1 240.9 L226.8 241.6 L227.4 242.4 L228.0 243.2 L228.6 244.0 L229.3 244.8 L229.9 245.6 L230.5 246.3 L231.2 247.1 L231.8 247.9 L232.5 248.7 L233.2 249.5 L233.8 250.3 L234.5 251.0 L235.2 251.8 L235.9 252.6 L236.7 253.3 L237.4 254.1 L238.1 254.8 L238.9 255.5 L239.6 256.3 L240.4 257.0 L241.2 257.7 L242.0 258.3 L242.8 259.0 L243.6 259.7 L244.4 260.3 L245.2 261.0 L246.0 261.6 L246.8 262.2 L247.6 262.8 L248.4 263.4 L249.2 264.0 L250.0 264.6 L250.8 265.2 L251.6 265.8 L252.4 266.4 L253.2 267.0 L254.0 267.6 L254.8 268.2 L255.6 268.8 L256.4 269.4 L257.2 270.0 L258.0 270.6 L258.8 271.2 L259.5 271.9 L260.3 272.5 L261.1 273.1 L261.9 273.7Z" fill="#c7edfc"/>
<circle cx="264.0" cy="271.0" r="3.4" fill="#c7edfc"/>
<circle cx="292.0" cy="205.0" r="4.5" fill="#c7edfc"/>
<path d="M296.0 175.0 L288.0 175.0 L287.5 183.0 L284.0 186.5 L280.0 188.0 L272.0 188.0 L258.0 180.0 L253.0 179.0 L253.9 183.0 L255.1 184.0 L256.3 185.0 L257.4 186.0 L258.5 187.0 L259.5 188.0 L260.5 189.1 L261.4 190.2 L262.3 191.3 L263.2 192.4 L264.0 193.5 L264.8 194.5 L265.5 195.5 L266.2 196.5 L266.8 197.6 L267.5 198.7 L268.3 200.0 L269.1 201.5 L270.0 203.1 L270.9 204.8 L271.8 206.5 L272.6 208.3 L273.5 210.0 L274.3 211.5 L275.1 212.9 L275.9 214.3 L276.7 215.9 L277.5 217.7 L278.4 220.0 L279.4 222.9 L280.5 226.4 L281.6 230.2 L282.6 234.0 L283.4 237.7 L284.0 241.0 L284.2 243.9 L284.3 246.7 L284.1 249.4 L283.8 251.8 L283.4 254.0 L283.0 256.0 L282.5 257.7 L281.8 259.1 L281.1 260.2 L280.3 261.3 L279.6 262.2 L279.0 263.0 L278.5 263.8 L278.0 264.4 L277.5 264.9 L277.1 265.4 L276.8 265.7 L276.5 266.0 L270.0 280.0 L255.0 300.0 L245.0 320.0 L250.0 336.0 L258.7 333.4 L266.7 330.0 L285.8 325.4 L301.8 315.8 L316.0 312.5 L322.0 305.0 L324.5 296.0 L325.5 289.0 L327.0 283.0 L327.0 282.4 L327.0 281.6 L327.0 280.6 L326.9 279.4 L326.8 278.2 L326.6 277.0 L326.3 275.7 L326.0 274.2 L325.6 272.7 L325.2 271.1 L324.7 269.6 L324.0 268.0 L323.2 266.5 L322.4 265.0 L321.4 263.5 L320.4 261.9 L319.2 260.3 L318.0 258.5 L316.6 256.7 L315.0 254.7 L313.3 252.8 L311.6 250.7 L310.0 248.4 L308.6 246.0 L307.4 243.4 L306.2 240.6 L305.1 237.6 L304.2 234.6 L303.3 231.5 L302.5 228.3 L301.8 225.0 L301.3 221.5 L300.8 217.9 L300.5 214.4 L300.1 211.0 L299.8 208.0 L299.5 205.3 L299.3 202.8 L299.1 200.4 L299.0 198.2 L298.8 196.1 L298.7 194.0 L298.5 192.0 L298.4 190.1 L298.3 188.3 L298.1 186.5 L298.0 184.7 L297.9 182.6 L297.8 180.3 L297.6 177.8 L297.5 175.2 L297.4 172.6 L297.3 170.2 L297.2 168.0Z" fill="#c7edfc"/>
<path d="M286.6 197.6 L285.9 196.8 L285.2 196.1 L284.5 195.4 L283.8 194.6 L283.1 193.9 L282.4 193.2 L281.7 192.5 L280.9 191.7 L280.2 191.0 L279.5 190.3 L278.7 189.6 L277.9 188.8 L277.2 188.1 L276.4 187.4 L275.6 186.8 L274.8 186.1 L273.9 185.4 L273.1 184.8 L272.3 184.1 L271.4 183.5 L270.6 182.9 L269.7 182.3 L268.9 181.7 L268.0 181.2 L267.1 180.6 L266.3 180.1 L265.4 179.5 L264.5 179.0 L263.7 178.4 L262.8 177.9 L261.9 177.4 L261.0 176.9 L260.2 176.4 L259.3 175.8 L258.4 175.3 L257.5 174.8 L256.7 174.3 L255.8 173.8 L254.9 173.3 L254.0 172.8 L253.1 172.3 L252.2 171.8 L251.3 171.3 L250.4 170.9 L249.5 170.4 L248.6 169.9 L247.7 169.4 L246.8 169.0 L245.8 168.5 L244.9 168.1 L244.0 167.6 L243.0 167.2 L242.1 166.8 L241.1 166.4 L240.2 166.0 L239.2 165.6 L238.2 165.2 L237.3 164.9 L236.3 164.5 L235.3 164.2 L234.4 163.8 L233.4 163.5 L232.5 163.1 L231.5 162.8 L230.6 162.5 L229.6 162.2 L228.7 161.8 L226.5 168.0 L227.5 168.3 L228.4 168.6 L229.4 169.0 L230.3 169.3 L231.3 169.6 L232.2 170.0 L233.1 170.3 L234.0 170.6 L234.9 171.0 L235.9 171.3 L236.8 171.7 L237.7 172.1 L238.5 172.4 L239.4 172.8 L240.3 173.2 L241.2 173.6 L242.1 174.0 L242.9 174.5 L243.8 174.9 L244.7 175.3 L245.5 175.8 L246.4 176.3 L247.3 176.7 L248.1 177.2 L249.0 177.7 L249.8 178.2 L250.7 178.7 L251.6 179.2 L252.4 179.7 L253.3 180.2 L254.1 180.7 L255.0 181.2 L255.8 181.7 L256.7 182.2 L257.5 182.7 L258.4 183.2 L259.2 183.8 L260.0 184.3 L260.9 184.8 L261.7 185.3 L262.5 185.9 L263.3 186.4 L264.2 187.0 L265.0 187.5 L265.7 188.1 L266.5 188.6 L267.3 189.2 L268.1 189.7 L268.8 190.3 L269.6 190.9 L270.3 191.5 L271.0 192.1 L271.7 192.8 L272.4 193.4 L273.2 194.0 L273.9 194.7 L274.6 195.4 L275.2 196.0 L275.9 196.7 L276.6 197.4 L277.3 198.1 L278.0 198.8 L278.7 199.5 L279.4 200.3 L280.1 201.0 L280.8 201.7 L281.4 202.4Z" fill="#c7edfc"/>
<circle cx="284.0" cy="200.0" r="3.5" fill="#c7edfc"/>
<circle cx="227.6" cy="164.9" r="3.2" fill="#c7edfc"/>
<path d="M282.5 140.1 L282.7 141.1 L282.8 142.1 L283.0 143.1 L283.1 144.1 L283.3 145.1 L283.4 146.1 L283.6 147.1 L283.7 148.1 L283.9 149.0 L284.0 150.0 L284.1 151.0 L284.3 152.0 L284.4 153.0 L284.5 154.0 L284.7 155.0 L284.8 156.0 L284.9 157.0 L285.0 157.9 L285.1 158.9 L285.2 159.9 L285.3 160.9 L285.4 161.9 L285.5 162.9 L285.6 163.9 L285.7 164.9 L285.8 165.9 L285.8 166.9 L285.9 167.9 L286.0 168.9 L286.0 169.8 L286.1 170.8 L286.1 171.8 L286.2 172.8 L286.2 173.8 L286.3 174.8 L286.3 175.8 L286.4 176.8 L286.4 177.8 L286.4 178.8 L286.5 179.8 L286.5 180.8 L286.5 181.9 L286.5 182.9 L286.6 183.9 L286.6 184.9 L286.6 185.9 L286.6 186.9 L286.7 187.9 L286.7 188.9 L286.7 190.0 L286.8 191.0 L286.8 192.0 L286.8 193.0 L286.9 194.1 L286.9 195.1 L287.0 196.1 L287.0 197.1 L287.1 198.2 L287.1 199.2 L287.2 200.2 L287.3 201.3 L287.3 202.3 L287.4 203.3 L287.5 204.3 L287.5 205.3 L296.5 204.7 L296.4 203.7 L296.3 202.7 L296.2 201.7 L296.2 200.7 L296.1 199.7 L296.0 198.7 L296.0 197.7 L295.9 196.7 L295.9 195.7 L295.8 194.7 L295.8 193.7 L295.7 192.7 L295.7 191.7 L295.7 190.7 L295.7 189.7 L295.6 188.7 L295.6 187.7 L295.6 186.7 L295.5 185.7 L295.5 184.6 L295.5 183.6 L295.5 182.6 L295.4 181.6 L295.4 180.6 L295.4 179.5 L295.3 178.5 L295.3 177.5 L295.2 176.5 L295.2 175.5 L295.1 174.4 L295.1 173.4 L295.0 172.4 L295.0 171.3 L294.9 170.3 L294.8 169.3 L294.8 168.3 L294.7 167.2 L294.6 166.2 L294.5 165.2 L294.4 164.2 L294.4 163.1 L294.3 162.1 L294.2 161.1 L294.1 160.0 L294.0 159.0 L293.9 158.0 L293.7 157.0 L293.6 155.9 L293.5 154.9 L293.4 153.9 L293.2 152.9 L293.1 151.9 L293.0 150.8 L292.8 149.8 L292.7 148.8 L292.5 147.8 L292.4 146.8 L292.2 145.8 L292.1 144.7 L291.9 143.7 L291.7 142.7 L291.6 141.7 L291.4 140.7 L291.3 139.7 L291.1 138.7Z" fill="#c7edfc"/>
<circle cx="286.8" cy="139.4" r="4.3" fill="#c7edfc"/>
<circle cx="292.0" cy="205.0" r="4.5" fill="#c7edfc"/>
<path d="M296.9 158.0 C296.9 159.7 297.0 163.9 297.2 168.0 C297.4 172.1 297.6 178.3 297.9 182.6 C298.1 186.9 298.4 189.8 298.7 194.0 C299.0 198.2 299.2 202.3 299.8 208.0 C300.4 213.7 301.0 222.0 302.5 228.3 C304.0 234.6 306.0 241.0 308.6 246.0 C311.2 251.0 315.4 254.8 318.0 258.5 C320.6 262.2 322.6 264.9 324.0 268.0 C325.4 271.1 326.1 274.5 326.6 277.0 C327.1 279.5 326.9 282.0 327.0 283.0" fill="none" stroke="#68b5f8" stroke-width="5.4" stroke-linecap="round" stroke-linejoin="round"/>
<path d="M236.3 173.2 C237.5 173.8 241.0 175.4 243.5 176.7 C246.0 178.0 248.9 179.5 251.4 181.2 C253.9 182.9 256.4 184.9 258.5 187.0 C260.6 189.1 262.4 191.3 264.0 193.5 C265.6 195.7 266.7 197.2 268.3 200.0 C269.9 202.8 271.8 206.7 273.5 210.0 C275.2 213.3 276.6 214.8 278.4 220.0 C280.1 225.2 283.2 235.0 284.0 241.0 C284.8 247.0 283.8 252.3 283.0 256.0 C282.2 259.7 280.1 261.3 279.0 263.0 C277.9 264.7 276.9 265.5 276.5 266.0" fill="none" stroke="#68b5f8" stroke-width="5.4" stroke-linecap="round" stroke-linejoin="round"/>
<path d="M280.0 139.4 C280.4 141.8 281.6 149.0 282.2 153.8 C282.8 158.6 283.3 164.3 283.6 168.2 C283.8 172.1 284.0 174.7 283.9 177.0 C283.8 179.3 283.8 180.6 283.2 182.0 C282.6 183.4 281.2 185.0 280.0 185.5 C278.8 186.0 277.3 185.6 276.0 185.0 C274.7 184.4 273.6 183.0 272.3 182.0 C271.1 181.0 270.4 180.3 268.5 179.0 C266.6 177.7 263.4 175.9 260.7 174.4 C258.0 172.9 255.2 171.3 252.5 169.8 C249.8 168.3 245.6 166.3 244.2 165.6" fill="none" stroke="#68b5f8" stroke-width="4.8" stroke-linecap="round" stroke-linejoin="round"/>
<path d="M239.0 318.5 C239.9 318.9 243.0 319.9 244.5 320.8 C246.0 321.7 247.5 322.3 248.0 323.6 C248.5 324.9 247.7 327.7 247.6 328.5" fill="none" stroke="#68b5f8" stroke-width="3.6" stroke-linecap="round" stroke-linejoin="round"/>
<path d="M253.0 285.5 C253.8 285.9 256.3 286.9 257.5 287.8 C258.7 288.7 259.8 289.8 260.0 291.0 C260.2 292.2 259.7 293.8 259.0 294.8 C258.3 295.8 256.5 296.6 256.0 297.0" fill="none" stroke="#68b5f8" stroke-width="4.2" stroke-linecap="round" stroke-linejoin="round"/>
<ellipse cx="265.8" cy="274.2" rx="16.400000000000002" ry="13.5" transform="rotate(20 265.8 274.2)" fill="#68b5f8" />
<ellipse cx="267" cy="274.8" rx="14.8" ry="11.7" transform="rotate(20 267 274.8)" fill="#b47bee" />
<ellipse cx="267.3" cy="274.6" rx="6.0" ry="4.5" transform="rotate(20 267.3 274.6)" fill="#8736dc" />
<ellipse cx="252.4" cy="308.3" rx="17.6" ry="13.600000000000001" transform="rotate(-10 252.4 308.3)" fill="#68b5f8" />
<ellipse cx="253.6" cy="308.3" rx="16" ry="11.8" transform="rotate(-10 253.6 308.3)" fill="#b47bee" />
<ellipse cx="253.9" cy="308.1" rx="6.0" ry="4.5" transform="rotate(-10 253.9 308.1)" fill="#8736dc" />
<ellipse cx="239.4" cy="340.5" rx="17.2" ry="13.700000000000001" transform="rotate(-12 239.4 340.5)" fill="#68b5f8" />
<ellipse cx="240.6" cy="340.2" rx="15.6" ry="11.9" transform="rotate(-12 240.6 340.2)" fill="#b47bee" />
<ellipse cx="240.9" cy="340.0" rx="6.0" ry="4.5" transform="rotate(-12 240.9 340.0)" fill="#8736dc" />
<ellipse cx="306.4" cy="289" rx="12" ry="21.2" transform="rotate(18 306.4 289)" fill="#b47bee" />
<ellipse cx="306.7" cy="289.3" rx="4.4" ry="9.7" transform="rotate(18 306.7 289.3)" fill="#8736dc" />
<ellipse cx="338" cy="308.9" rx="9.8" ry="14.7" transform="rotate(-15 338 308.9)" fill="#b47bee" />
<ellipse cx="337.5" cy="308.5" rx="4.3" ry="8" transform="rotate(-15 337.5 308.5)" fill="#8736dc" />
<line x1="141.7" y1="139.5" x2="197.3" y2="147.3" stroke="#262626" stroke-width="0.8"/>
<line x1="141.7" y1="139.5" x2="173.8" y2="170.9" stroke="#262626" stroke-width="0.8"/>
<line x1="141.7" y1="139.5" x2="166" y2="250.7" stroke="#262626" stroke-width="0.8"/>
<line x1="137.4" y1="402.2" x2="255" y2="273.7" stroke="#262626" stroke-width="0.8"/>
<line x1="137.4" y1="402.2" x2="242.8" y2="311.4" stroke="#262626" stroke-width="0.8"/>
<line x1="137.4" y1="402.2" x2="237.2" y2="349.8" stroke="#262626" stroke-width="0.8"/>
<line x1="256.2" y1="413.5" x2="302.4" y2="304.5" stroke="#262626" stroke-width="0.8"/>
<line x1="354.8" y1="418" x2="341" y2="321" stroke="#262626" stroke-width="0.8"/>
<line x1="471.8" y1="417.5" x2="440" y2="306.8" stroke="#262626" stroke-width="0.8"/>
<g style="filter:grayscale(1)">
<text x="100.6" y="128.9" class="lb">Semicircular</text>
<text x="100.6" y="143.5" class="lb">canals</text>
<text x="101.3" y="414.8" class="lb">Membranous</text>
<text x="101.3" y="429.5" class="lb">ampullae</text>
<text x="238.2" y="429.5" class="lb">Utricle</text>
<text x="336.3" y="429.5" class="lb">Saccule</text>
<text x="452.3" y="429.5" class="lb">Cochlea</text>
<text x="313.3" y="44.2" class="tt" text-anchor="middle">VESTIBULAR APPARATUS</text>
</g>
</svg>
</body></html>
